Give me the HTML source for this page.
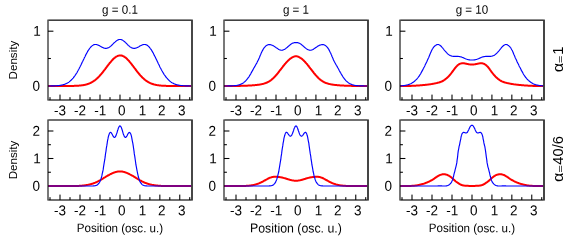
<!DOCTYPE html>
<html lang="en"><head><meta charset="utf-8"><title>Density profiles</title>
<style>
html,body{margin:0;padding:0;background:#fff;}
body{width:575px;height:240px;overflow:hidden;position:relative;font-family:"Liberation Sans",sans-serif;}
#fig{will-change:transform;position:absolute;left:0;top:0;width:575px;height:240px;}
#fig svg{display:block;position:absolute;left:0;top:0;}
svg text{font-family:"Liberation Sans",sans-serif;fill:#000;}
.t{font-size:13.5px;}
.l{font-size:11.6px;}
.r{font-size:14.7px;}
</style></head><body>
<div id="fig">
<svg width="575" height="240" viewBox="0 0 575 240">
<rect width="575" height="240" fill="#fff"/>
<g>
<g fill="#000" shape-rendering="crispEdges"><rect x="49" y="97" width="1" height="1" fill-opacity="0.45"/><rect x="49" y="98" width="1" height="2" fill-opacity="0.53"/><rect x="50" y="97" width="1" height="1" fill-opacity="0.45"/><rect x="50" y="98" width="1" height="2" fill-opacity="0.53"/><rect x="59" y="94" width="1" height="1" fill-opacity="0.21"/><rect x="59" y="95" width="1" height="5" fill-opacity="0.53"/><rect x="60" y="94" width="1" height="1" fill-opacity="0.21"/><rect x="60" y="95" width="1" height="5" fill-opacity="0.53"/><rect x="69" y="97" width="1" height="1" fill-opacity="0.45"/><rect x="69" y="98" width="1" height="2" fill-opacity="0.53"/><rect x="70" y="97" width="1" height="1" fill-opacity="0.45"/><rect x="70" y="98" width="1" height="2" fill-opacity="0.53"/><rect x="79" y="94" width="1" height="1" fill-opacity="0.21"/><rect x="79" y="95" width="1" height="5" fill-opacity="0.53"/><rect x="80" y="94" width="1" height="1" fill-opacity="0.21"/><rect x="80" y="95" width="1" height="5" fill-opacity="0.53"/><rect x="89" y="97" width="1" height="1" fill-opacity="0.45"/><rect x="89" y="98" width="1" height="2" fill-opacity="0.53"/><rect x="90" y="97" width="1" height="1" fill-opacity="0.45"/><rect x="90" y="98" width="1" height="2" fill-opacity="0.53"/><rect x="99" y="94" width="1" height="1" fill-opacity="0.21"/><rect x="99" y="95" width="1" height="5" fill-opacity="0.53"/><rect x="100" y="94" width="1" height="1" fill-opacity="0.21"/><rect x="100" y="95" width="1" height="5" fill-opacity="0.53"/><rect x="109" y="97" width="1" height="1" fill-opacity="0.45"/><rect x="109" y="98" width="1" height="2" fill-opacity="0.53"/><rect x="110" y="97" width="1" height="1" fill-opacity="0.45"/><rect x="110" y="98" width="1" height="2" fill-opacity="0.53"/><rect x="119" y="94" width="1" height="1" fill-opacity="0.21"/><rect x="119" y="95" width="1" height="5" fill-opacity="0.53"/><rect x="120" y="94" width="1" height="1" fill-opacity="0.21"/><rect x="120" y="95" width="1" height="5" fill-opacity="0.53"/><rect x="129" y="97" width="1" height="1" fill-opacity="0.49"/><rect x="129" y="98" width="1" height="2" fill-opacity="0.57"/><rect x="130" y="97" width="1" height="1" fill-opacity="0.42"/><rect x="130" y="98" width="1" height="2" fill-opacity="0.50"/><rect x="139" y="94" width="1" height="1" fill-opacity="0.25"/><rect x="139" y="95" width="1" height="5" fill-opacity="0.62"/><rect x="140" y="94" width="1" height="1" fill-opacity="0.18"/><rect x="140" y="95" width="1" height="5" fill-opacity="0.45"/><rect x="149" y="97" width="1" height="1" fill-opacity="0.56"/><rect x="149" y="98" width="1" height="2" fill-opacity="0.66"/><rect x="150" y="97" width="1" height="1" fill-opacity="0.35"/><rect x="150" y="98" width="1" height="2" fill-opacity="0.41"/><rect x="159" y="94" width="1" height="1" fill-opacity="0.28"/><rect x="159" y="95" width="1" height="5" fill-opacity="0.69"/><rect x="160" y="94" width="1" height="1" fill-opacity="0.15"/><rect x="160" y="95" width="1" height="5" fill-opacity="0.38"/><rect x="169" y="97" width="1" height="1" fill-opacity="0.62"/><rect x="169" y="98" width="1" height="2" fill-opacity="0.73"/><rect x="170" y="97" width="1" height="1" fill-opacity="0.28"/><rect x="170" y="98" width="1" height="2" fill-opacity="0.34"/><rect x="179" y="94" width="1" height="1" fill-opacity="0.31"/><rect x="179" y="95" width="1" height="5" fill-opacity="0.78"/><rect x="180" y="94" width="1" height="1" fill-opacity="0.12"/><rect x="180" y="95" width="1" height="5" fill-opacity="0.29"/><rect x="189" y="97" width="1" height="1" fill-opacity="0.69"/><rect x="189" y="98" width="1" height="2" fill-opacity="0.81"/><rect x="190" y="97" width="1" height="1" fill-opacity="0.22"/><rect x="190" y="98" width="1" height="2" fill-opacity="0.25"/><rect x="48" y="85" width="5" height="1" fill-opacity="0.53"/><rect x="48" y="86" width="5" height="1" fill-opacity="0.53"/><rect x="53" y="85" width="1" height="1" fill-opacity="0.21"/><rect x="53" y="86" width="1" height="1" fill-opacity="0.21"/><rect x="48" y="30" width="5" height="1" fill-opacity="0.34"/><rect x="48" y="31" width="5" height="1" fill-opacity="0.73"/><rect x="53" y="30" width="1" height="1" fill-opacity="0.13"/><rect x="53" y="31" width="1" height="1" fill-opacity="0.29"/><rect x="48" y="57" width="2" height="1" fill-opacity="0.03"/><rect x="48" y="58" width="2" height="1" fill-opacity="1.00"/><rect x="48" y="59" width="2" height="1" fill-opacity="0.03"/><rect x="50" y="57" width="1" height="1" fill-opacity="0.03"/><rect x="50" y="58" width="1" height="1" fill-opacity="0.90"/><rect x="50" y="59" width="1" height="1" fill-opacity="0.03"/></g>
<path d="M48.4,86.00L48.8,86.00L49.2,86.00L49.5,86.00L50.0,86.00L50.4,86.00L50.8,86.00L51.1,86.00L51.5,86.00L52.0,86.00L52.3,86.00L52.8,86.00L53.1,86.00L53.5,86.00L54.0,86.00L54.3,86.00L54.8,86.00L55.1,86.00L55.5,86.00L56.0,86.00L56.4,86.00L56.8,86.00L57.1,86.00L57.5,86.00L58.0,86.00L58.4,86.00L58.8,86.00L59.2,86.00L59.6,86.00L60.0,86.00L60.3,86.00L60.8,86.00L61.1,86.00L61.6,86.00L61.9,86.00L62.4,85.99L62.8,85.99L63.1,85.99L63.5,85.99L63.9,85.99L64.3,85.99L64.8,85.99L65.2,85.99L65.5,85.99L66.0,85.99L66.3,85.98L66.8,85.98L67.2,85.98L67.5,85.98L68.0,85.97L68.3,85.97L68.8,85.97L69.2,85.97L69.5,85.96L70.0,85.96L70.3,85.95L70.8,85.95L71.1,85.94L71.6,85.94L71.9,85.93L72.4,85.92L72.8,85.91L73.2,85.90L73.5,85.89L74.0,85.88L74.3,85.87L74.8,85.86L75.2,85.84L75.5,85.83L76.0,85.81L76.3,85.80L76.8,85.78L77.2,85.75L77.5,85.73L78.0,85.71L78.3,85.68L78.8,85.65L79.2,85.62L79.5,85.59L80.0,85.55L80.3,85.51L80.8,85.47L81.2,85.42L81.5,85.37L82.0,85.32L82.3,85.27L82.8,85.21L83.2,85.14L83.6,85.07L84.0,85.00L84.3,84.92L84.8,84.84L85.2,84.75L85.5,84.66L86.0,84.56L86.3,84.45L86.8,84.34L87.2,84.22L87.5,84.09L88.0,83.96L88.3,83.82L88.8,83.67L89.2,83.52L89.6,83.35L90.0,83.18L90.3,83.00L90.8,82.80L91.2,82.60L91.6,82.39L92.0,82.17L92.3,81.94L92.8,81.70L93.2,81.45L93.5,81.19L93.9,80.92L94.3,80.63L94.8,80.34L95.2,80.03L95.5,79.72L96.0,79.39L96.3,79.05L96.8,78.70L97.2,78.34L97.5,77.96L98.0,77.58L98.3,77.18L98.8,76.78L99.2,76.36L99.6,75.93L100.0,75.49L100.3,75.04L100.8,74.59L101.2,74.12L101.6,73.64L102.0,73.16L102.3,72.67L102.8,72.17L103.2,71.66L103.5,71.15L103.9,70.63L104.3,70.11L104.8,69.59L105.2,69.06L105.5,68.52L106.0,67.99L106.3,67.45L106.8,66.92L107.2,66.39L107.5,65.85L108.0,65.33L108.3,64.80L108.8,64.28L109.2,63.76L109.5,63.26L110.0,62.76L110.4,62.26L110.8,61.78L111.2,61.31L111.6,60.85L112.0,60.41L112.4,59.97L112.8,59.56L113.1,59.15L113.5,58.77L114.0,58.40L114.3,58.05L114.8,57.72L115.2,57.41L115.5,57.12L116.0,56.85L116.3,56.60L116.8,56.38L117.2,56.18L117.5,56.00L118.0,55.84L118.3,55.72L118.8,55.61L119.2,55.53L119.5,55.48L120.0,55.45L120.4,55.45L120.8,55.47L121.2,55.52L121.6,55.59L122.0,55.69L122.4,55.81L122.8,55.96L123.1,56.13L123.5,56.32L124.0,56.54L124.3,56.78L124.8,57.05L125.2,57.33L125.5,57.64L126.0,57.96L126.4,58.31L126.8,58.67L127.2,59.05L127.5,59.45L127.9,59.87L128.3,60.30L128.8,60.74L129.2,61.20L129.5,61.66L129.9,62.14L130.3,62.63L130.8,63.13L131.2,63.64L131.6,64.15L131.9,64.67L132.3,65.19L132.8,65.72L133.2,66.25L133.6,66.79L134.0,67.32L134.3,67.86L134.8,68.39L135.2,68.92L135.6,69.45L135.9,69.98L136.4,70.50L136.8,71.02L137.2,71.54L137.6,72.04L138.0,72.54L138.3,73.04L138.8,73.52L139.2,74.00L139.5,74.47L139.9,74.93L140.3,75.38L140.8,75.82L141.2,76.25L141.6,76.67L141.9,77.08L142.3,77.48L142.8,77.87L143.2,78.24L143.6,78.61L144.0,78.96L144.3,79.30L144.8,79.64L145.2,79.96L145.6,80.26L145.9,80.56L146.4,80.85L146.8,81.12L147.2,81.39L147.6,81.64L148.0,81.88L148.3,82.12L148.8,82.34L149.2,82.55L149.5,82.75L149.9,82.95L150.3,83.13L150.8,83.31L151.2,83.48L151.6,83.63L151.9,83.78L152.4,83.93L152.8,84.06L153.2,84.19L153.6,84.31L153.9,84.42L154.3,84.53L154.8,84.63L155.2,84.73L155.6,84.82L155.9,84.90L156.4,84.98L156.8,85.06L157.2,85.13L157.6,85.19L158.0,85.25L158.3,85.31L158.8,85.36L159.2,85.41L159.6,85.46L159.9,85.50L160.3,85.54L160.8,85.58L161.1,85.61L161.6,85.64L161.9,85.67L162.4,85.70L162.8,85.73L163.2,85.75L163.6,85.77L163.9,85.79L164.3,85.81L164.8,85.83L165.2,85.84L165.6,85.86L165.9,85.87L166.4,85.88L166.8,85.89L167.2,85.90L167.6,85.91L168.0,85.92L168.3,85.93L168.8,85.93L169.2,85.94L169.6,85.95L169.9,85.95L170.3,85.96L170.8,85.96L171.1,85.96L171.6,85.97L171.9,85.97L172.4,85.97L172.8,85.98L173.2,85.98L173.6,85.98L173.9,85.98L174.3,85.99L174.8,85.99L175.2,85.99L175.6,85.99L175.9,85.99L176.4,85.99L176.8,85.99L177.2,85.99L177.6,85.99L178.0,85.99L178.3,86.00L178.8,86.00L179.2,86.00L179.6,86.00L179.9,86.00L180.3,86.00L180.8,86.00L181.1,86.00L181.6,86.00L181.9,86.00L182.4,86.00L182.8,86.00L183.2,86.00L183.6,86.00L183.9,86.00L184.3,86.00L184.8,86.00L185.1,86.00L185.6,86.00L185.9,86.00L186.4,86.00L186.8,86.00L187.2,86.00L187.6,86.00L187.9,86.00L188.4,86.00L188.8,86.00L189.2,86.00L189.6,86.00L189.9,86.00L190.3,86.00L190.8,86.00L191.1,86.00" fill="none" stroke="#ff0000" stroke-width="2.0" stroke-linejoin="round"/>
<path d="M48.4,85.97L48.8,85.97L49.2,85.96L49.5,85.96L50.0,85.96L50.4,85.95L50.8,85.94L51.1,85.94L51.5,85.93L52.0,85.92L52.3,85.91L52.8,85.90L53.1,85.89L53.5,85.88L54.0,85.86L54.3,85.85L54.8,85.83L55.1,85.81L55.5,85.79L56.0,85.77L56.4,85.74L56.8,85.71L57.1,85.68L57.5,85.65L58.0,85.61L58.4,85.57L58.8,85.53L59.2,85.48L59.6,85.43L60.0,85.37L60.3,85.31L60.8,85.25L61.1,85.17L61.6,85.10L61.9,85.01L62.4,84.92L62.8,84.82L63.1,84.72L63.5,84.60L63.9,84.48L64.3,84.35L64.8,84.21L65.2,84.05L65.5,83.89L66.0,83.72L66.3,83.53L66.8,83.33L67.2,83.12L67.5,82.90L68.0,82.66L68.3,82.40L68.8,82.14L69.2,81.85L69.5,81.55L70.0,81.23L70.3,80.89L70.8,80.54L71.1,80.17L71.6,79.78L71.9,79.37L72.4,78.93L72.8,78.48L73.2,78.01L73.5,77.52L74.0,77.01L74.3,76.48L74.8,75.92L75.2,75.35L75.5,74.75L76.0,74.14L76.3,73.50L76.8,72.84L77.2,72.17L77.5,71.48L78.0,70.76L78.3,70.03L78.8,69.29L79.2,68.53L79.5,67.75L80.0,66.96L80.3,66.16L80.8,65.35L81.2,64.53L81.5,63.70L82.0,62.86L82.3,62.02L82.8,61.18L83.2,60.34L83.6,59.50L84.0,58.66L84.3,57.83L84.8,57.01L85.2,56.19L85.5,55.39L86.0,54.61L86.3,53.84L86.8,53.08L87.2,52.35L87.5,51.64L88.0,50.96L88.3,50.30L88.8,49.68L89.2,49.08L89.6,48.51L90.0,47.98L90.3,47.48L90.8,47.02L91.2,46.60L91.6,46.21L92.0,45.86L92.3,45.55L92.8,45.28L93.2,45.05L93.5,44.86L93.9,44.70L94.3,44.59L94.8,44.51L95.2,44.47L95.5,44.46L96.0,44.48L96.3,44.54L96.8,44.62L97.2,44.73L97.5,44.87L98.0,45.03L98.3,45.20L98.8,45.40L99.2,45.60L99.6,45.82L100.0,46.05L100.3,46.28L100.8,46.51L101.2,46.74L101.6,46.96L102.0,47.18L102.3,47.39L102.8,47.58L103.2,47.76L103.5,47.92L103.9,48.05L104.3,48.17L104.8,48.26L105.2,48.32L105.5,48.35L106.0,48.36L106.3,48.33L106.8,48.27L107.2,48.18L107.5,48.07L108.0,47.91L108.3,47.73L108.8,47.52L109.2,47.28L109.5,47.02L110.0,46.73L110.4,46.42L110.8,46.08L111.2,45.73L111.6,45.36L112.0,44.98L112.4,44.59L112.8,44.20L113.1,43.80L113.5,43.40L114.0,43.00L114.3,42.61L114.8,42.23L115.2,41.87L115.5,41.52L116.0,41.18L116.3,40.88L116.8,40.59L117.2,40.33L117.5,40.11L118.0,39.91L118.3,39.75L118.8,39.62L119.2,39.53L119.5,39.47L120.0,39.45L120.4,39.47L120.8,39.53L121.2,39.62L121.6,39.75L122.0,39.91L122.4,40.11L122.8,40.33L123.1,40.59L123.5,40.88L124.0,41.18L124.3,41.52L124.8,41.87L125.2,42.23L125.5,42.61L126.0,43.00L126.4,43.40L126.8,43.80L127.2,44.20L127.5,44.59L127.9,44.98L128.3,45.36L128.8,45.73L129.2,46.08L129.5,46.42L129.9,46.73L130.3,47.02L130.8,47.28L131.2,47.52L131.6,47.73L131.9,47.91L132.3,48.07L132.8,48.18L133.2,48.27L133.6,48.33L134.0,48.36L134.3,48.35L134.8,48.32L135.2,48.26L135.6,48.17L135.9,48.05L136.4,47.92L136.8,47.76L137.2,47.58L137.6,47.39L138.0,47.18L138.3,46.96L138.8,46.74L139.2,46.51L139.5,46.28L139.9,46.05L140.3,45.82L140.8,45.60L141.2,45.40L141.6,45.20L141.9,45.03L142.3,44.87L142.8,44.73L143.2,44.62L143.6,44.54L144.0,44.48L144.3,44.46L144.8,44.47L145.2,44.51L145.6,44.59L145.9,44.70L146.4,44.86L146.8,45.05L147.2,45.28L147.6,45.55L148.0,45.86L148.3,46.21L148.8,46.60L149.2,47.02L149.5,47.48L149.9,47.98L150.3,48.51L150.8,49.08L151.2,49.68L151.6,50.30L151.9,50.96L152.4,51.64L152.8,52.35L153.2,53.08L153.6,53.84L153.9,54.61L154.3,55.39L154.8,56.19L155.2,57.01L155.6,57.83L155.9,58.66L156.4,59.50L156.8,60.34L157.2,61.18L157.6,62.02L158.0,62.86L158.3,63.70L158.8,64.53L159.2,65.35L159.6,66.16L159.9,66.96L160.3,67.75L160.8,68.53L161.1,69.29L161.6,70.03L161.9,70.76L162.4,71.48L162.8,72.17L163.2,72.84L163.6,73.50L163.9,74.14L164.3,74.75L164.8,75.35L165.2,75.92L165.6,76.48L165.9,77.01L166.4,77.52L166.8,78.01L167.2,78.48L167.6,78.93L168.0,79.37L168.3,79.78L168.8,80.17L169.2,80.54L169.6,80.89L169.9,81.23L170.3,81.55L170.8,81.85L171.1,82.14L171.6,82.40L171.9,82.66L172.4,82.90L172.8,83.12L173.2,83.33L173.6,83.53L173.9,83.72L174.3,83.89L174.8,84.05L175.2,84.21L175.6,84.35L175.9,84.48L176.4,84.60L176.8,84.72L177.2,84.82L177.6,84.92L178.0,85.01L178.3,85.10L178.8,85.17L179.2,85.25L179.6,85.31L179.9,85.37L180.3,85.43L180.8,85.48L181.1,85.53L181.6,85.57L181.9,85.61L182.4,85.65L182.8,85.68L183.2,85.71L183.6,85.74L183.9,85.77L184.3,85.79L184.8,85.81L185.1,85.83L185.6,85.85L185.9,85.86L186.4,85.88L186.8,85.89L187.2,85.90L187.6,85.91L187.9,85.92L188.4,85.93L188.8,85.94L189.2,85.94L189.6,85.95L189.9,85.96L190.3,85.96L190.8,85.96L191.1,85.97" fill="none" stroke="#0000ff" stroke-width="1.15" stroke-linejoin="round"/>
<g fill="#000" shape-rendering="crispEdges"><rect x="47" y="19" width="1" height="1" fill-opacity="0.24"/><rect x="47" y="20" width="1" height="80" fill-opacity="0.53"/><rect x="47" y="100" width="1" height="1" fill-opacity="0.30"/><rect x="48" y="19" width="1" height="1" fill-opacity="0.24"/><rect x="48" y="20" width="1" height="80" fill-opacity="0.53"/><rect x="48" y="100" width="1" height="1" fill-opacity="0.30"/><rect x="191" y="19" width="1" height="1" fill-opacity="0.33"/><rect x="191" y="20" width="1" height="80" fill-opacity="0.72"/><rect x="191" y="100" width="1" height="1" fill-opacity="0.41"/><rect x="192" y="19" width="1" height="1" fill-opacity="0.33"/><rect x="192" y="20" width="1" height="80" fill-opacity="0.72"/><rect x="192" y="100" width="1" height="1" fill-opacity="0.41"/><rect x="48" y="19" width="1" height="1" fill-opacity="0.21"/><rect x="48" y="20" width="1" height="1" fill-opacity="0.35"/><rect x="49" y="19" width="142" height="1" fill-opacity="0.45"/><rect x="49" y="20" width="142" height="1" fill-opacity="0.75"/><rect x="191" y="19" width="1" height="1" fill-opacity="0.12"/><rect x="191" y="20" width="1" height="1" fill-opacity="0.21"/><rect x="48" y="99" width="1" height="1" fill-opacity="0.26"/><rect x="48" y="100" width="1" height="1" fill-opacity="0.26"/><rect x="49" y="99" width="142" height="1" fill-opacity="0.56"/><rect x="49" y="100" width="142" height="1" fill-opacity="0.56"/><rect x="191" y="99" width="1" height="1" fill-opacity="0.15"/><rect x="191" y="100" width="1" height="1" fill-opacity="0.15"/></g>
<text transform="translate(60.0,115.25) rotate(0.1) scale(1,1.05)" text-anchor="middle" class="t">-3</text>
<text transform="translate(80.0,115.25) rotate(0.1) scale(1,1.05)" text-anchor="middle" class="t">-2</text>
<text transform="translate(100.2,115.25) rotate(0.1) scale(1,1.05)" text-anchor="middle" class="t">-1</text>
<text transform="translate(121.7,115.25) rotate(0.1) scale(1,1.05)" text-anchor="middle" class="t">0</text>
<text transform="translate(142.5,115.25) rotate(0.1) scale(1,1.05)" text-anchor="middle" class="t">1</text>
<text transform="translate(161.7,115.25) rotate(0.1) scale(1,1.05)" text-anchor="middle" class="t">2</text>
<text transform="translate(181.7,115.25) rotate(0.1) scale(1,1.05)" text-anchor="middle" class="t">3</text>
<text transform="translate(40,90.75) rotate(0.1) scale(1,1.05)" text-anchor="end" class="t">0</text>
<text transform="translate(40.8,35.75) rotate(0.1) scale(1,1.05)" text-anchor="end" class="t">1</text>
<text transform="translate(17.2,60.1) rotate(-90)" text-anchor="middle" class="l">Density</text>
<text transform="translate(119.95,13.7) rotate(0.1) scale(1,1.06)" text-anchor="middle" class="l">g = 0.1</text>
</g>
<g>
<g fill="#000" shape-rendering="crispEdges"><rect x="225" y="97" width="1" height="1" fill-opacity="0.45"/><rect x="225" y="98" width="1" height="2" fill-opacity="0.53"/><rect x="226" y="97" width="1" height="1" fill-opacity="0.45"/><rect x="226" y="98" width="1" height="2" fill-opacity="0.53"/><rect x="235" y="94" width="1" height="1" fill-opacity="0.21"/><rect x="235" y="95" width="1" height="5" fill-opacity="0.53"/><rect x="236" y="94" width="1" height="1" fill-opacity="0.21"/><rect x="236" y="95" width="1" height="5" fill-opacity="0.53"/><rect x="245" y="97" width="1" height="1" fill-opacity="0.45"/><rect x="245" y="98" width="1" height="2" fill-opacity="0.53"/><rect x="246" y="97" width="1" height="1" fill-opacity="0.45"/><rect x="246" y="98" width="1" height="2" fill-opacity="0.53"/><rect x="255" y="94" width="1" height="1" fill-opacity="0.21"/><rect x="255" y="95" width="1" height="5" fill-opacity="0.53"/><rect x="256" y="94" width="1" height="1" fill-opacity="0.21"/><rect x="256" y="95" width="1" height="5" fill-opacity="0.54"/><rect x="265" y="97" width="1" height="1" fill-opacity="0.45"/><rect x="265" y="98" width="1" height="2" fill-opacity="0.54"/><rect x="266" y="97" width="1" height="1" fill-opacity="0.45"/><rect x="266" y="98" width="1" height="2" fill-opacity="0.54"/><rect x="275" y="94" width="1" height="1" fill-opacity="0.21"/><rect x="275" y="95" width="1" height="5" fill-opacity="0.54"/><rect x="276" y="94" width="1" height="1" fill-opacity="0.21"/><rect x="276" y="95" width="1" height="5" fill-opacity="0.54"/><rect x="285" y="97" width="1" height="1" fill-opacity="0.45"/><rect x="285" y="98" width="1" height="2" fill-opacity="0.54"/><rect x="286" y="97" width="1" height="1" fill-opacity="0.45"/><rect x="286" y="98" width="1" height="2" fill-opacity="0.54"/><rect x="295" y="94" width="1" height="1" fill-opacity="0.21"/><rect x="295" y="95" width="1" height="5" fill-opacity="0.54"/><rect x="296" y="94" width="1" height="1" fill-opacity="0.21"/><rect x="296" y="95" width="1" height="5" fill-opacity="0.54"/><rect x="305" y="97" width="1" height="1" fill-opacity="0.49"/><rect x="305" y="98" width="1" height="2" fill-opacity="0.58"/><rect x="306" y="97" width="1" height="1" fill-opacity="0.42"/><rect x="306" y="98" width="1" height="2" fill-opacity="0.50"/><rect x="315" y="94" width="1" height="1" fill-opacity="0.25"/><rect x="315" y="95" width="1" height="5" fill-opacity="0.62"/><rect x="316" y="94" width="1" height="1" fill-opacity="0.18"/><rect x="316" y="95" width="1" height="5" fill-opacity="0.46"/><rect x="325" y="97" width="1" height="1" fill-opacity="0.56"/><rect x="325" y="98" width="1" height="2" fill-opacity="0.66"/><rect x="326" y="97" width="1" height="1" fill-opacity="0.35"/><rect x="326" y="98" width="1" height="2" fill-opacity="0.42"/><rect x="335" y="94" width="1" height="1" fill-opacity="0.28"/><rect x="335" y="95" width="1" height="5" fill-opacity="0.70"/><rect x="336" y="94" width="1" height="1" fill-opacity="0.15"/><rect x="336" y="95" width="1" height="5" fill-opacity="0.38"/><rect x="345" y="97" width="1" height="1" fill-opacity="0.62"/><rect x="345" y="98" width="1" height="2" fill-opacity="0.74"/><rect x="346" y="97" width="1" height="1" fill-opacity="0.28"/><rect x="346" y="98" width="1" height="2" fill-opacity="0.34"/><rect x="355" y="94" width="1" height="1" fill-opacity="0.31"/><rect x="355" y="95" width="1" height="5" fill-opacity="0.78"/><rect x="356" y="94" width="1" height="1" fill-opacity="0.12"/><rect x="356" y="95" width="1" height="5" fill-opacity="0.30"/><rect x="365" y="97" width="1" height="1" fill-opacity="0.69"/><rect x="365" y="98" width="1" height="2" fill-opacity="0.81"/><rect x="366" y="97" width="1" height="1" fill-opacity="0.22"/><rect x="366" y="98" width="1" height="2" fill-opacity="0.26"/><rect x="224" y="85" width="5" height="1" fill-opacity="0.53"/><rect x="224" y="86" width="5" height="1" fill-opacity="0.53"/><rect x="229" y="85" width="1" height="1" fill-opacity="0.21"/><rect x="229" y="86" width="1" height="1" fill-opacity="0.21"/><rect x="224" y="30" width="5" height="1" fill-opacity="0.34"/><rect x="224" y="31" width="5" height="1" fill-opacity="0.73"/><rect x="229" y="30" width="1" height="1" fill-opacity="0.13"/><rect x="229" y="31" width="1" height="1" fill-opacity="0.29"/><rect x="224" y="57" width="2" height="1" fill-opacity="0.03"/><rect x="224" y="58" width="2" height="1" fill-opacity="1.00"/><rect x="224" y="59" width="2" height="1" fill-opacity="0.03"/><rect x="226" y="57" width="1" height="1" fill-opacity="0.03"/><rect x="226" y="58" width="1" height="1" fill-opacity="0.90"/><rect x="226" y="59" width="1" height="1" fill-opacity="0.03"/></g>
<path d="M224.3,86.00L224.8,86.00L225.1,86.00L225.5,86.00L225.9,86.00L226.3,86.00L226.8,86.00L227.1,86.00L227.5,86.00L227.9,86.00L228.3,86.00L228.8,86.00L229.1,86.00L229.5,86.00L229.9,86.00L230.3,86.00L230.8,86.00L231.1,86.00L231.5,85.99L231.9,85.99L232.3,85.99L232.8,85.99L233.1,85.98L233.5,85.98L233.9,85.98L234.3,85.98L234.8,85.97L235.1,85.97L235.5,85.96L235.9,85.96L236.3,85.95L236.8,85.95L237.1,85.94L237.5,85.94L237.9,85.93L238.3,85.92L238.8,85.91L239.1,85.91L239.5,85.90L239.9,85.89L240.3,85.88L240.8,85.87L241.1,85.86L241.5,85.85L241.9,85.84L242.3,85.83L242.8,85.82L243.1,85.80L243.5,85.79L243.9,85.78L244.3,85.76L244.8,85.75L245.1,85.73L245.5,85.72L245.9,85.70L246.3,85.68L246.8,85.67L247.1,85.65L247.5,85.63L247.9,85.61L248.3,85.59L248.8,85.57L249.1,85.55L249.5,85.53L249.9,85.50L250.3,85.48L250.8,85.46L251.1,85.43L251.5,85.41L251.9,85.38L252.3,85.35L252.8,85.32L253.1,85.29L253.5,85.26L253.9,85.23L254.3,85.19L254.8,85.16L255.1,85.12L255.5,85.08L255.9,85.04L256.3,85.00L256.8,84.96L257.1,84.91L257.5,84.86L257.9,84.81L258.3,84.76L258.8,84.70L259.1,84.64L259.6,84.58L259.9,84.52L260.3,84.45L260.8,84.38L261.1,84.30L261.5,84.22L261.9,84.13L262.3,84.05L262.8,83.95L263.1,83.85L263.5,83.75L263.9,83.63L264.3,83.51L264.8,83.39L265.1,83.25L265.6,83.11L265.9,82.96L266.3,82.80L266.8,82.63L267.1,82.45L267.6,82.26L267.9,82.05L268.3,81.84L268.8,81.62L269.1,81.38L269.5,81.14L269.9,80.88L270.3,80.60L270.8,80.32L271.1,80.02L271.5,79.71L271.9,79.38L272.3,79.04L272.8,78.68L273.1,78.32L273.6,77.94L273.9,77.55L274.3,77.14L274.8,76.73L275.1,76.30L275.6,75.86L275.9,75.41L276.3,74.95L276.8,74.48L277.1,74.00L277.6,73.52L277.9,73.02L278.3,72.52L278.8,72.01L279.1,71.50L279.5,70.99L279.9,70.47L280.3,69.95L280.8,69.42L281.1,68.90L281.6,68.38L281.9,67.86L282.3,67.34L282.8,66.83L283.1,66.32L283.6,65.81L283.9,65.31L284.3,64.81L284.8,64.33L285.1,63.85L285.6,63.38L285.9,62.91L286.3,62.46L286.8,62.02L287.1,61.59L287.6,61.17L287.9,60.77L288.3,60.37L288.8,60.00L289.1,59.63L289.5,59.28L289.9,58.95L290.3,58.63L290.8,58.33L291.1,58.04L291.6,57.77L291.9,57.53L292.3,57.30L292.8,57.09L293.1,56.90L293.6,56.73L293.9,56.59L294.3,56.47L294.8,56.37L295.1,56.30L295.6,56.26L295.9,56.24L296.3,56.26L296.8,56.30L297.1,56.37L297.6,56.47L297.9,56.59L298.3,56.73L298.8,56.90L299.1,57.09L299.5,57.30L299.9,57.53L300.3,57.77L300.8,58.04L301.1,58.33L301.6,58.63L301.9,58.95L302.4,59.28L302.8,59.63L303.1,60.00L303.6,60.37L303.9,60.77L304.3,61.17L304.8,61.59L305.1,62.02L305.5,62.46L305.9,62.91L306.3,63.38L306.8,63.85L307.1,64.33L307.6,64.81L307.9,65.31L308.3,65.81L308.8,66.32L309.1,66.83L309.5,67.34L309.9,67.86L310.3,68.38L310.8,68.90L311.1,69.42L311.6,69.95L311.9,70.47L312.4,70.99L312.8,71.50L313.1,72.01L313.6,72.52L313.9,73.02L314.3,73.52L314.8,74.00L315.1,74.48L315.5,74.95L315.9,75.41L316.3,75.86L316.8,76.30L317.1,76.73L317.6,77.14L317.9,77.55L318.3,77.94L318.8,78.32L319.1,78.68L319.5,79.04L319.9,79.38L320.3,79.71L320.8,80.02L321.1,80.32L321.6,80.60L321.9,80.88L322.4,81.14L322.8,81.38L323.1,81.62L323.6,81.84L323.9,82.05L324.3,82.26L324.8,82.45L325.1,82.63L325.5,82.80L325.9,82.96L326.3,83.11L326.8,83.25L327.1,83.39L327.6,83.51L327.9,83.63L328.4,83.75L328.8,83.85L329.1,83.95L329.5,84.05L329.9,84.13L330.3,84.22L330.8,84.30L331.1,84.38L331.6,84.45L331.9,84.52L332.4,84.58L332.8,84.64L333.1,84.70L333.5,84.76L333.9,84.81L334.3,84.86L334.8,84.91L335.1,84.96L335.5,85.00L335.9,85.04L336.3,85.08L336.8,85.12L337.1,85.16L337.6,85.19L337.9,85.23L338.4,85.26L338.8,85.29L339.1,85.32L339.5,85.35L339.9,85.38L340.3,85.41L340.8,85.43L341.1,85.46L341.6,85.48L341.9,85.50L342.4,85.53L342.8,85.55L343.1,85.57L343.5,85.59L343.9,85.61L344.3,85.63L344.8,85.65L345.1,85.67L345.5,85.68L345.9,85.70L346.3,85.72L346.8,85.73L347.1,85.75L347.6,85.76L347.9,85.78L348.4,85.79L348.8,85.80L349.1,85.82L349.5,85.83L349.9,85.84L350.3,85.85L350.8,85.86L351.1,85.87L351.6,85.88L351.9,85.89L352.4,85.90L352.8,85.91L353.1,85.91L353.5,85.92L353.9,85.93L354.3,85.94L354.8,85.94L355.1,85.95L355.5,85.95L355.9,85.96L356.3,85.96L356.8,85.97L357.1,85.97L357.6,85.98L357.9,85.98L358.4,85.98L358.8,85.98L359.1,85.99L359.5,85.99L359.9,85.99L360.3,85.99L360.8,86.00L361.1,86.00L361.6,86.00L361.9,86.00L362.4,86.00L362.8,86.00L363.1,86.00L363.5,86.00L363.9,86.00L364.4,86.00L364.8,86.00L365.1,86.00L365.5,86.00L365.9,86.00L366.3,86.00L366.8,86.00L367.1,86.00" fill="none" stroke="#ff0000" stroke-width="2.0" stroke-linejoin="round"/>
<path d="M224.3,85.98L224.8,85.98L225.1,85.98L225.5,85.97L225.9,85.97L226.3,85.96L226.8,85.96L227.1,85.96L227.5,85.95L227.9,85.94L228.3,85.94L228.8,85.93L229.1,85.93L229.5,85.92L229.9,85.91L230.3,85.90L230.8,85.89L231.1,85.88L231.5,85.86L231.9,85.84L232.3,85.83L232.8,85.80L233.1,85.78L233.5,85.75L233.9,85.72L234.3,85.69L234.8,85.66L235.1,85.62L235.5,85.57L235.9,85.52L236.3,85.46L236.8,85.40L237.1,85.33L237.5,85.25L237.9,85.16L238.3,85.06L238.8,84.96L239.1,84.84L239.5,84.71L239.9,84.57L240.3,84.42L240.8,84.26L241.1,84.08L241.5,83.88L241.9,83.67L242.3,83.45L242.8,83.21L243.1,82.95L243.5,82.67L243.9,82.37L244.3,82.05L244.8,81.71L245.1,81.36L245.5,80.97L245.9,80.57L246.3,80.14L246.8,79.69L247.1,79.22L247.5,78.72L247.9,78.19L248.3,77.64L248.8,77.06L249.1,76.45L249.5,75.82L249.9,75.16L250.3,74.48L250.8,73.79L251.1,73.08L251.5,72.36L251.9,71.64L252.3,70.91L252.8,70.18L253.1,69.45L253.5,68.73L253.9,68.02L254.3,67.31L254.8,66.62L255.1,65.93L255.5,65.23L255.9,64.53L256.3,63.82L256.8,63.09L257.1,62.35L257.5,61.57L257.9,60.77L258.3,59.94L258.8,59.06L259.1,58.15L259.6,57.19L259.9,56.22L260.3,55.25L260.8,54.29L261.1,53.37L261.5,52.49L261.9,51.65L262.3,50.86L262.8,50.12L263.1,49.42L263.5,48.77L263.9,48.17L264.3,47.62L264.8,47.12L265.1,46.66L265.6,46.26L265.9,45.90L266.3,45.60L266.8,45.33L267.1,45.11L267.6,44.93L267.9,44.79L268.3,44.68L268.8,44.61L269.1,44.58L269.5,44.58L269.9,44.61L270.3,44.67L270.8,44.75L271.1,44.86L271.5,44.99L271.9,45.13L272.3,45.30L272.8,45.48L273.1,45.68L273.6,45.89L273.9,46.12L274.3,46.36L274.8,46.62L275.1,46.89L275.6,47.17L275.9,47.46L276.3,47.75L276.8,48.04L277.1,48.33L277.6,48.61L277.9,48.88L278.3,49.13L278.8,49.36L279.1,49.58L279.5,49.77L279.9,49.93L280.3,50.06L280.8,50.16L281.1,50.23L281.6,50.25L281.9,50.23L282.3,50.18L282.8,50.08L283.1,49.96L283.6,49.80L283.9,49.61L284.3,49.40L284.8,49.17L285.1,48.91L285.6,48.64L285.9,48.35L286.3,48.05L286.8,47.73L287.1,47.40L287.6,47.07L287.9,46.73L288.3,46.38L288.8,46.03L289.1,45.67L289.5,45.33L289.9,44.99L290.3,44.66L290.8,44.35L291.1,44.05L291.6,43.78L291.9,43.54L292.3,43.33L292.8,43.15L293.1,42.99L293.6,42.86L293.9,42.76L294.3,42.68L294.8,42.62L295.1,42.58L295.6,42.56L295.9,42.55L296.3,42.56L296.8,42.58L297.1,42.62L297.6,42.68L297.9,42.76L298.3,42.86L298.8,42.99L299.1,43.15L299.5,43.33L299.9,43.54L300.3,43.78L300.8,44.05L301.1,44.35L301.6,44.66L301.9,44.99L302.4,45.33L302.8,45.67L303.1,46.03L303.6,46.38L303.9,46.73L304.3,47.07L304.8,47.40L305.1,47.73L305.5,48.05L305.9,48.35L306.3,48.64L306.8,48.91L307.1,49.17L307.6,49.40L307.9,49.61L308.3,49.80L308.8,49.96L309.1,50.08L309.5,50.18L309.9,50.23L310.3,50.25L310.8,50.23L311.1,50.16L311.6,50.06L311.9,49.93L312.4,49.77L312.8,49.58L313.1,49.36L313.6,49.13L313.9,48.87L314.3,48.61L314.8,48.33L315.1,48.04L315.5,47.75L315.9,47.46L316.3,47.17L316.8,46.89L317.1,46.62L317.6,46.36L317.9,46.12L318.3,45.89L318.8,45.68L319.1,45.48L319.5,45.30L319.9,45.13L320.3,44.99L320.8,44.86L321.1,44.75L321.6,44.67L321.9,44.61L322.4,44.58L322.8,44.58L323.1,44.61L323.6,44.68L323.9,44.79L324.3,44.93L324.8,45.11L325.1,45.33L325.5,45.60L325.9,45.90L326.3,46.26L326.8,46.66L327.1,47.11L327.6,47.62L327.9,48.17L328.4,48.77L328.8,49.42L329.1,50.12L329.5,50.86L329.9,51.65L330.3,52.49L330.8,53.37L331.1,54.29L331.6,55.25L331.9,56.22L332.4,57.19L332.8,58.15L333.1,59.06L333.5,59.94L333.9,60.77L334.3,61.57L334.8,62.35L335.1,63.09L335.5,63.82L335.9,64.53L336.3,65.23L336.8,65.93L337.1,66.62L337.6,67.31L337.9,68.01L338.4,68.73L338.8,69.45L339.1,70.18L339.5,70.91L339.9,71.64L340.3,72.36L340.8,73.08L341.1,73.79L341.6,74.48L341.9,75.16L342.4,75.82L342.8,76.45L343.1,77.06L343.5,77.64L343.9,78.19L344.3,78.72L344.8,79.22L345.1,79.69L345.5,80.14L345.9,80.57L346.3,80.97L346.8,81.36L347.1,81.71L347.6,82.05L347.9,82.37L348.4,82.67L348.8,82.95L349.1,83.21L349.5,83.45L349.9,83.67L350.3,83.88L350.8,84.08L351.1,84.26L351.6,84.42L351.9,84.57L352.4,84.71L352.8,84.84L353.1,84.96L353.5,85.06L353.9,85.16L354.3,85.25L354.8,85.33L355.1,85.40L355.5,85.46L355.9,85.52L356.3,85.57L356.8,85.62L357.1,85.66L357.6,85.69L357.9,85.72L358.4,85.75L358.8,85.78L359.1,85.80L359.5,85.83L359.9,85.84L360.3,85.86L360.8,85.88L361.1,85.89L361.6,85.90L361.9,85.91L362.4,85.92L362.8,85.93L363.1,85.93L363.5,85.94L363.9,85.94L364.4,85.95L364.8,85.96L365.1,85.96L365.5,85.96L365.9,85.97L366.3,85.97L366.8,85.98L367.1,85.98" fill="none" stroke="#0000ff" stroke-width="1.15" stroke-linejoin="round"/>
<g fill="#000" shape-rendering="crispEdges"><rect x="223" y="19" width="1" height="1" fill-opacity="0.24"/><rect x="223" y="20" width="1" height="80" fill-opacity="0.53"/><rect x="223" y="100" width="1" height="1" fill-opacity="0.30"/><rect x="224" y="19" width="1" height="1" fill-opacity="0.24"/><rect x="224" y="20" width="1" height="80" fill-opacity="0.53"/><rect x="224" y="100" width="1" height="1" fill-opacity="0.30"/><rect x="367" y="19" width="1" height="1" fill-opacity="0.33"/><rect x="367" y="20" width="1" height="80" fill-opacity="0.73"/><rect x="367" y="100" width="1" height="1" fill-opacity="0.41"/><rect x="368" y="19" width="1" height="1" fill-opacity="0.33"/><rect x="368" y="20" width="1" height="80" fill-opacity="0.73"/><rect x="368" y="100" width="1" height="1" fill-opacity="0.41"/><rect x="224" y="19" width="1" height="1" fill-opacity="0.21"/><rect x="224" y="20" width="1" height="1" fill-opacity="0.35"/><rect x="225" y="19" width="142" height="1" fill-opacity="0.45"/><rect x="225" y="20" width="142" height="1" fill-opacity="0.75"/><rect x="367" y="19" width="1" height="1" fill-opacity="0.12"/><rect x="367" y="20" width="1" height="1" fill-opacity="0.21"/><rect x="224" y="99" width="1" height="1" fill-opacity="0.26"/><rect x="224" y="100" width="1" height="1" fill-opacity="0.26"/><rect x="225" y="99" width="142" height="1" fill-opacity="0.56"/><rect x="225" y="100" width="142" height="1" fill-opacity="0.56"/><rect x="367" y="99" width="1" height="1" fill-opacity="0.15"/><rect x="367" y="100" width="1" height="1" fill-opacity="0.15"/></g>
<text transform="translate(235.9,115.25) rotate(0.1) scale(1,1.05)" text-anchor="middle" class="t">-3</text>
<text transform="translate(255.9,115.25) rotate(0.1) scale(1,1.05)" text-anchor="middle" class="t">-2</text>
<text transform="translate(276.2,115.25) rotate(0.1) scale(1,1.05)" text-anchor="middle" class="t">-1</text>
<text transform="translate(297.7,115.25) rotate(0.1) scale(1,1.05)" text-anchor="middle" class="t">0</text>
<text transform="translate(318.5,115.25) rotate(0.1) scale(1,1.05)" text-anchor="middle" class="t">1</text>
<text transform="translate(337.7,115.25) rotate(0.1) scale(1,1.05)" text-anchor="middle" class="t">2</text>
<text transform="translate(357.7,115.25) rotate(0.1) scale(1,1.05)" text-anchor="middle" class="t">3</text>
<text transform="translate(216,90.75) rotate(0.1) scale(1,1.05)" text-anchor="end" class="t">0</text>
<text transform="translate(216.8,35.75) rotate(0.1) scale(1,1.05)" text-anchor="end" class="t">1</text>
<text transform="translate(295.95,13.7) rotate(0.1) scale(1,1.06)" text-anchor="middle" class="l">g = 1</text>
</g>
<g>
<g fill="#000" shape-rendering="crispEdges"><rect x="401" y="97" width="1" height="1" fill-opacity="0.45"/><rect x="401" y="98" width="1" height="2" fill-opacity="0.54"/><rect x="402" y="97" width="1" height="1" fill-opacity="0.45"/><rect x="402" y="98" width="1" height="2" fill-opacity="0.54"/><rect x="411" y="94" width="1" height="1" fill-opacity="0.21"/><rect x="411" y="95" width="1" height="5" fill-opacity="0.54"/><rect x="412" y="94" width="1" height="1" fill-opacity="0.21"/><rect x="412" y="95" width="1" height="5" fill-opacity="0.54"/><rect x="421" y="97" width="1" height="1" fill-opacity="0.45"/><rect x="421" y="98" width="1" height="2" fill-opacity="0.54"/><rect x="422" y="97" width="1" height="1" fill-opacity="0.45"/><rect x="422" y="98" width="1" height="2" fill-opacity="0.54"/><rect x="431" y="94" width="1" height="1" fill-opacity="0.21"/><rect x="431" y="95" width="1" height="5" fill-opacity="0.54"/><rect x="432" y="94" width="1" height="1" fill-opacity="0.21"/><rect x="432" y="95" width="1" height="5" fill-opacity="0.54"/><rect x="441" y="97" width="1" height="1" fill-opacity="0.45"/><rect x="441" y="98" width="1" height="2" fill-opacity="0.54"/><rect x="442" y="97" width="1" height="1" fill-opacity="0.45"/><rect x="442" y="98" width="1" height="2" fill-opacity="0.54"/><rect x="451" y="94" width="1" height="1" fill-opacity="0.21"/><rect x="451" y="95" width="1" height="5" fill-opacity="0.54"/><rect x="452" y="94" width="1" height="1" fill-opacity="0.21"/><rect x="452" y="95" width="1" height="5" fill-opacity="0.54"/><rect x="461" y="97" width="1" height="1" fill-opacity="0.45"/><rect x="461" y="98" width="1" height="2" fill-opacity="0.54"/><rect x="462" y="97" width="1" height="1" fill-opacity="0.45"/><rect x="462" y="98" width="1" height="2" fill-opacity="0.54"/><rect x="471" y="94" width="1" height="1" fill-opacity="0.21"/><rect x="471" y="95" width="1" height="5" fill-opacity="0.54"/><rect x="472" y="94" width="1" height="1" fill-opacity="0.21"/><rect x="472" y="95" width="1" height="5" fill-opacity="0.54"/><rect x="481" y="97" width="1" height="1" fill-opacity="0.49"/><rect x="481" y="98" width="1" height="2" fill-opacity="0.58"/><rect x="482" y="97" width="1" height="1" fill-opacity="0.42"/><rect x="482" y="98" width="1" height="2" fill-opacity="0.50"/><rect x="491" y="94" width="1" height="1" fill-opacity="0.25"/><rect x="491" y="95" width="1" height="5" fill-opacity="0.62"/><rect x="492" y="94" width="1" height="1" fill-opacity="0.18"/><rect x="492" y="95" width="1" height="5" fill-opacity="0.46"/><rect x="501" y="97" width="1" height="1" fill-opacity="0.56"/><rect x="501" y="98" width="1" height="2" fill-opacity="0.66"/><rect x="502" y="97" width="1" height="1" fill-opacity="0.35"/><rect x="502" y="98" width="1" height="2" fill-opacity="0.42"/><rect x="511" y="94" width="1" height="1" fill-opacity="0.28"/><rect x="511" y="95" width="1" height="5" fill-opacity="0.70"/><rect x="512" y="94" width="1" height="1" fill-opacity="0.15"/><rect x="512" y="95" width="1" height="5" fill-opacity="0.38"/><rect x="521" y="97" width="1" height="1" fill-opacity="0.62"/><rect x="521" y="98" width="1" height="2" fill-opacity="0.74"/><rect x="522" y="97" width="1" height="1" fill-opacity="0.28"/><rect x="522" y="98" width="1" height="2" fill-opacity="0.33"/><rect x="531" y="94" width="1" height="1" fill-opacity="0.31"/><rect x="531" y="95" width="1" height="5" fill-opacity="0.77"/><rect x="532" y="94" width="1" height="1" fill-opacity="0.12"/><rect x="532" y="95" width="1" height="5" fill-opacity="0.29"/><rect x="541" y="97" width="1" height="1" fill-opacity="0.69"/><rect x="541" y="98" width="1" height="2" fill-opacity="0.81"/><rect x="542" y="97" width="1" height="1" fill-opacity="0.22"/><rect x="542" y="98" width="1" height="2" fill-opacity="0.25"/><rect x="400" y="85" width="5" height="1" fill-opacity="0.53"/><rect x="400" y="86" width="5" height="1" fill-opacity="0.53"/><rect x="405" y="85" width="1" height="1" fill-opacity="0.21"/><rect x="405" y="86" width="1" height="1" fill-opacity="0.21"/><rect x="400" y="30" width="5" height="1" fill-opacity="0.34"/><rect x="400" y="31" width="5" height="1" fill-opacity="0.73"/><rect x="405" y="30" width="1" height="1" fill-opacity="0.13"/><rect x="405" y="31" width="1" height="1" fill-opacity="0.29"/><rect x="400" y="57" width="2" height="1" fill-opacity="0.03"/><rect x="400" y="58" width="2" height="1" fill-opacity="1.00"/><rect x="400" y="59" width="2" height="1" fill-opacity="0.03"/><rect x="402" y="57" width="1" height="1" fill-opacity="0.03"/><rect x="402" y="58" width="1" height="1" fill-opacity="0.90"/><rect x="402" y="59" width="1" height="1" fill-opacity="0.03"/></g>
<path d="M400.4,86.00L400.8,86.00L401.1,86.00L401.5,86.00L401.9,86.00L402.4,86.00L402.8,86.00L403.1,86.00L403.5,86.00L403.9,86.00L404.3,86.00L404.8,86.00L405.1,86.00L405.5,86.00L405.9,86.00L406.3,86.00L406.8,85.99L407.1,85.99L407.5,85.98L407.9,85.97L408.3,85.96L408.8,85.96L409.1,85.95L409.5,85.94L409.9,85.92L410.3,85.91L410.8,85.90L411.1,85.89L411.6,85.87L411.9,85.86L412.3,85.84L412.8,85.82L413.1,85.80L413.6,85.78L413.9,85.76L414.4,85.74L414.8,85.72L415.1,85.70L415.5,85.67L415.9,85.65L416.3,85.62L416.8,85.59L417.1,85.57L417.5,85.54L417.9,85.51L418.3,85.48L418.8,85.45L419.1,85.42L419.5,85.39L419.9,85.36L420.3,85.32L420.8,85.29L421.1,85.26L421.5,85.22L421.9,85.19L422.3,85.15L422.8,85.11L423.1,85.08L423.6,85.04L423.9,85.00L424.4,84.96L424.8,84.92L425.1,84.88L425.5,84.84L425.9,84.80L426.3,84.75L426.8,84.71L427.1,84.67L427.5,84.62L427.9,84.57L428.3,84.52L428.8,84.47L429.1,84.42L429.5,84.37L429.9,84.31L430.3,84.25L430.8,84.19L431.1,84.13L431.5,84.07L431.9,84.00L432.3,83.93L432.8,83.86L433.1,83.78L433.5,83.71L433.9,83.63L434.3,83.55L434.8,83.47L435.1,83.38L435.6,83.30L435.9,83.21L436.3,83.12L436.8,83.03L437.1,82.94L437.5,82.84L437.9,82.74L438.3,82.64L438.8,82.54L439.1,82.43L439.5,82.31L439.9,82.19L440.3,82.05L440.8,81.91L441.1,81.76L441.6,81.59L441.9,81.41L442.3,81.21L442.8,81.00L443.1,80.77L443.6,80.53L443.9,80.27L444.3,80.00L444.8,79.72L445.1,79.42L445.5,79.11L445.9,78.79L446.3,78.46L446.8,78.12L447.1,77.77L447.5,77.40L447.9,77.03L448.3,76.63L448.8,76.22L449.1,75.80L449.6,75.35L449.9,74.89L450.3,74.41L450.8,73.91L451.1,73.40L451.6,72.87L451.9,72.34L452.3,71.79L452.8,71.25L453.1,70.70L453.6,70.16L453.9,69.61L454.3,69.08L454.8,68.55L455.1,68.04L455.5,67.54L455.9,67.06L456.3,66.60L456.8,66.17L457.1,65.77L457.6,65.39L457.9,65.05L458.3,64.75L458.8,64.47L459.1,64.22L459.6,64.00L459.9,63.82L460.3,63.65L460.8,63.52L461.1,63.41L461.6,63.33L461.9,63.27L462.3,63.24L462.8,63.22L463.1,63.23L463.6,63.25L463.9,63.30L464.3,63.35L464.8,63.42L465.1,63.49L465.5,63.58L465.9,63.66L466.3,63.75L466.8,63.85L467.1,63.93L467.6,64.02L467.9,64.10L468.3,64.18L468.8,64.25L469.1,64.31L469.6,64.37L469.9,64.42L470.3,64.47L470.8,64.50L471.1,64.53L471.6,64.54L471.9,64.55L472.3,64.54L472.8,64.53L473.1,64.50L473.6,64.47L473.9,64.42L474.3,64.37L474.8,64.31L475.1,64.25L475.5,64.18L475.9,64.10L476.3,64.02L476.8,63.93L477.1,63.85L477.6,63.75L477.9,63.66L478.4,63.58L478.8,63.49L479.1,63.42L479.6,63.35L479.9,63.30L480.3,63.25L480.8,63.23L481.1,63.22L481.5,63.24L481.9,63.27L482.3,63.33L482.8,63.41L483.1,63.52L483.6,63.65L483.9,63.82L484.3,64.00L484.8,64.22L485.1,64.47L485.5,64.75L485.9,65.05L486.3,65.39L486.8,65.77L487.1,66.17L487.6,66.60L487.9,67.06L488.4,67.54L488.8,68.04L489.1,68.55L489.6,69.08L489.9,69.61L490.3,70.16L490.8,70.70L491.1,71.25L491.5,71.79L491.9,72.34L492.3,72.87L492.8,73.40L493.1,73.91L493.6,74.41L493.9,74.89L494.3,75.35L494.8,75.80L495.1,76.22L495.5,76.63L495.9,77.03L496.3,77.40L496.8,77.77L497.1,78.12L497.6,78.46L497.9,78.79L498.4,79.11L498.8,79.42L499.1,79.72L499.6,80.00L499.9,80.27L500.3,80.53L500.8,80.77L501.1,81.00L501.5,81.21L501.9,81.41L502.3,81.59L502.8,81.76L503.1,81.91L503.6,82.05L503.9,82.19L504.4,82.31L504.8,82.43L505.1,82.54L505.5,82.64L505.9,82.74L506.3,82.84L506.8,82.94L507.1,83.03L507.6,83.12L507.9,83.21L508.4,83.30L508.8,83.38L509.1,83.47L509.5,83.55L509.9,83.63L510.3,83.71L510.8,83.78L511.1,83.86L511.5,83.93L511.9,84.00L512.4,84.07L512.8,84.13L513.1,84.19L513.5,84.25L513.9,84.31L514.4,84.37L514.8,84.42L515.1,84.47L515.5,84.52L516.0,84.57L516.4,84.62L516.8,84.67L517.1,84.71L517.5,84.75L518.0,84.80L518.4,84.84L518.8,84.88L519.1,84.92L519.5,84.96L520.0,85.00L520.4,85.04L520.8,85.08L521.1,85.11L521.5,85.15L522.0,85.19L522.4,85.22L522.8,85.26L523.1,85.29L523.5,85.32L523.9,85.36L524.4,85.39L524.8,85.42L525.1,85.45L525.5,85.48L526.0,85.51L526.4,85.54L526.8,85.57L527.1,85.59L527.5,85.62L528.0,85.65L528.4,85.67L528.8,85.70L529.1,85.72L529.5,85.74L530.0,85.76L530.4,85.78L530.8,85.80L531.1,85.82L531.5,85.84L532.0,85.86L532.4,85.87L532.8,85.89L533.1,85.90L533.5,85.91L533.9,85.92L534.4,85.94L534.8,85.95L535.1,85.96L535.5,85.96L536.0,85.97L536.4,85.98L536.8,85.99L537.1,85.99L537.5,86.00L538.0,86.00L538.4,86.00L538.8,86.00L539.1,86.00L539.5,86.00L540.0,86.00L540.4,86.00L540.8,86.00L541.1,86.00L541.5,86.00L542.0,86.00L542.4,86.00L542.8,86.00L543.1,86.00" fill="none" stroke="#ff0000" stroke-width="2.0" stroke-linejoin="round"/>
<path d="M400.4,85.92L400.8,85.90L401.1,85.87L401.5,85.84L401.9,85.80L402.4,85.76L402.8,85.72L403.1,85.67L403.5,85.61L403.9,85.56L404.3,85.50L404.8,85.43L405.1,85.37L405.5,85.29L405.9,85.22L406.3,85.13L406.8,85.05L407.1,84.95L407.5,84.86L407.9,84.75L408.3,84.64L408.8,84.52L409.1,84.39L409.5,84.25L409.9,84.09L410.3,83.92L410.8,83.73L411.1,83.53L411.6,83.31L411.9,83.08L412.3,82.82L412.8,82.56L413.1,82.28L413.6,81.98L413.9,81.67L414.4,81.35L414.8,81.02L415.1,80.68L415.5,80.32L415.9,79.94L416.3,79.55L416.8,79.14L417.1,78.70L417.5,78.24L417.9,77.75L418.3,77.23L418.8,76.68L419.1,76.11L419.5,75.50L419.9,74.87L420.3,74.22L420.8,73.54L421.1,72.84L421.5,72.12L421.9,71.39L422.3,70.63L422.8,69.87L423.1,69.09L423.6,68.30L423.9,67.51L424.4,66.70L424.8,65.89L425.1,65.08L425.5,64.27L425.9,63.46L426.3,62.63L426.8,61.80L427.1,60.96L427.5,60.10L427.9,59.22L428.3,58.32L428.8,57.40L429.1,56.45L429.5,55.48L429.9,54.51L430.3,53.54L430.8,52.59L431.1,51.67L431.5,50.78L431.9,49.95L432.3,49.18L432.8,48.49L433.1,47.88L433.5,47.34L433.9,46.87L434.3,46.45L434.8,46.08L435.1,45.74L435.6,45.43L435.9,45.15L436.3,44.91L436.8,44.72L437.1,44.58L437.5,44.49L437.9,44.47L438.3,44.52L438.8,44.63L439.1,44.80L439.5,45.01L439.9,45.28L440.3,45.59L440.8,45.94L441.1,46.32L441.6,46.72L441.9,47.16L442.3,47.61L442.8,48.08L443.1,48.57L443.6,49.06L443.9,49.55L444.3,50.05L444.8,50.54L445.1,51.02L445.5,51.49L445.9,51.95L446.3,52.39L446.8,52.82L447.1,53.22L447.5,53.61L447.9,53.97L448.3,54.30L448.8,54.62L449.1,54.90L449.6,55.15L449.9,55.38L450.3,55.58L450.8,55.75L451.1,55.90L451.6,56.03L451.9,56.14L452.3,56.23L452.8,56.30L453.1,56.35L453.6,56.39L453.9,56.42L454.3,56.43L454.8,56.43L455.1,56.43L455.5,56.43L455.9,56.42L456.3,56.41L456.8,56.40L457.1,56.40L457.6,56.41L457.9,56.42L458.3,56.44L458.8,56.47L459.1,56.51L459.6,56.57L459.9,56.64L460.3,56.72L460.8,56.81L461.1,56.92L461.6,57.05L461.9,57.19L462.3,57.34L462.8,57.50L463.1,57.67L463.6,57.85L463.9,58.03L464.3,58.21L464.8,58.40L465.1,58.57L465.5,58.75L465.9,58.91L466.3,59.07L466.8,59.21L467.1,59.34L467.6,59.46L467.9,59.57L468.3,59.66L468.8,59.74L469.1,59.82L469.6,59.88L469.9,59.93L470.3,59.97L470.8,60.00L471.1,60.02L471.6,60.04L471.9,60.04L472.3,60.04L472.8,60.02L473.1,60.00L473.6,59.97L473.9,59.93L474.3,59.88L474.8,59.82L475.1,59.74L475.5,59.66L475.9,59.57L476.3,59.46L476.8,59.34L477.1,59.21L477.6,59.07L477.9,58.91L478.4,58.75L478.8,58.57L479.1,58.40L479.6,58.21L479.9,58.03L480.3,57.85L480.8,57.67L481.1,57.50L481.5,57.34L481.9,57.19L482.3,57.05L482.8,56.92L483.1,56.81L483.6,56.72L483.9,56.64L484.3,56.57L484.8,56.51L485.1,56.47L485.5,56.44L485.9,56.42L486.3,56.41L486.8,56.40L487.1,56.40L487.6,56.41L487.9,56.42L488.4,56.43L488.8,56.43L489.1,56.43L489.6,56.43L489.9,56.42L490.3,56.39L490.8,56.35L491.1,56.30L491.5,56.23L491.9,56.14L492.3,56.03L492.8,55.90L493.1,55.75L493.6,55.58L493.9,55.38L494.3,55.15L494.8,54.90L495.1,54.62L495.5,54.30L495.9,53.97L496.3,53.61L496.8,53.22L497.1,52.82L497.6,52.39L497.9,51.95L498.4,51.49L498.8,51.02L499.1,50.54L499.6,50.05L499.9,49.55L500.3,49.06L500.8,48.57L501.1,48.08L501.5,47.61L501.9,47.16L502.3,46.72L502.8,46.32L503.1,45.94L503.6,45.59L503.9,45.28L504.4,45.01L504.8,44.80L505.1,44.63L505.5,44.52L505.9,44.47L506.3,44.49L506.8,44.58L507.1,44.72L507.6,44.91L507.9,45.15L508.4,45.43L508.8,45.74L509.1,46.08L509.5,46.45L509.9,46.87L510.3,47.34L510.8,47.88L511.1,48.49L511.5,49.18L511.9,49.95L512.4,50.78L512.8,51.67L513.1,52.59L513.5,53.54L513.9,54.51L514.4,55.48L514.8,56.45L515.1,57.40L515.5,58.32L516.0,59.22L516.4,60.10L516.8,60.96L517.1,61.80L517.5,62.63L518.0,63.46L518.4,64.27L518.8,65.08L519.1,65.89L519.5,66.70L520.0,67.51L520.4,68.30L520.8,69.09L521.1,69.87L521.5,70.63L522.0,71.39L522.4,72.12L522.8,72.84L523.1,73.54L523.5,74.22L523.9,74.87L524.4,75.50L524.8,76.11L525.1,76.68L525.5,77.23L526.0,77.75L526.4,78.24L526.8,78.70L527.1,79.14L527.5,79.55L528.0,79.94L528.4,80.32L528.8,80.68L529.1,81.02L529.5,81.35L530.0,81.67L530.4,81.98L530.8,82.28L531.1,82.56L531.5,82.82L532.0,83.08L532.4,83.31L532.8,83.53L533.1,83.73L533.5,83.92L533.9,84.09L534.4,84.25L534.8,84.39L535.1,84.52L535.5,84.64L536.0,84.75L536.4,84.86L536.8,84.95L537.1,85.05L537.5,85.13L538.0,85.22L538.4,85.29L538.8,85.37L539.1,85.43L539.5,85.50L540.0,85.56L540.4,85.61L540.8,85.67L541.1,85.72L541.5,85.76L542.0,85.80L542.4,85.84L542.8,85.87L543.1,85.90" fill="none" stroke="#0000ff" stroke-width="1.15" stroke-linejoin="round"/>
<g fill="#000" shape-rendering="crispEdges"><rect x="399" y="19" width="1" height="1" fill-opacity="0.24"/><rect x="399" y="20" width="1" height="80" fill-opacity="0.54"/><rect x="399" y="100" width="1" height="1" fill-opacity="0.30"/><rect x="400" y="19" width="1" height="1" fill-opacity="0.24"/><rect x="400" y="20" width="1" height="80" fill-opacity="0.54"/><rect x="400" y="100" width="1" height="1" fill-opacity="0.30"/><rect x="543" y="19" width="1" height="1" fill-opacity="0.33"/><rect x="543" y="20" width="1" height="80" fill-opacity="0.73"/><rect x="543" y="100" width="1" height="1" fill-opacity="0.41"/><rect x="544" y="19" width="1" height="1" fill-opacity="0.33"/><rect x="544" y="20" width="1" height="80" fill-opacity="0.73"/><rect x="544" y="100" width="1" height="1" fill-opacity="0.41"/><rect x="400" y="19" width="1" height="1" fill-opacity="0.21"/><rect x="400" y="20" width="1" height="1" fill-opacity="0.35"/><rect x="401" y="19" width="142" height="1" fill-opacity="0.45"/><rect x="401" y="20" width="142" height="1" fill-opacity="0.75"/><rect x="543" y="19" width="1" height="1" fill-opacity="0.12"/><rect x="543" y="20" width="1" height="1" fill-opacity="0.21"/><rect x="400" y="99" width="1" height="1" fill-opacity="0.26"/><rect x="400" y="100" width="1" height="1" fill-opacity="0.26"/><rect x="401" y="99" width="142" height="1" fill-opacity="0.56"/><rect x="401" y="100" width="142" height="1" fill-opacity="0.56"/><rect x="543" y="99" width="1" height="1" fill-opacity="0.15"/><rect x="543" y="100" width="1" height="1" fill-opacity="0.15"/></g>
<text transform="translate(411.9,115.25) rotate(0.1) scale(1,1.05)" text-anchor="middle" class="t">-3</text>
<text transform="translate(431.9,115.25) rotate(0.1) scale(1,1.05)" text-anchor="middle" class="t">-2</text>
<text transform="translate(452.2,115.25) rotate(0.1) scale(1,1.05)" text-anchor="middle" class="t">-1</text>
<text transform="translate(473.7,115.25) rotate(0.1) scale(1,1.05)" text-anchor="middle" class="t">0</text>
<text transform="translate(494.5,115.25) rotate(0.1) scale(1,1.05)" text-anchor="middle" class="t">1</text>
<text transform="translate(513.7,115.25) rotate(0.1) scale(1,1.05)" text-anchor="middle" class="t">2</text>
<text transform="translate(533.7,115.25) rotate(0.1) scale(1,1.05)" text-anchor="middle" class="t">3</text>
<text transform="translate(392,90.75) rotate(0.1) scale(1,1.05)" text-anchor="end" class="t">0</text>
<text transform="translate(392.8,35.75) rotate(0.1) scale(1,1.05)" text-anchor="end" class="t">1</text>
<text transform="translate(471.95,13.7) rotate(0.1) scale(1,1.06)" text-anchor="middle" class="l">g = 10</text>
</g>
<text transform="translate(563.4,72.2) rotate(-90) scale(1.1,1)" class="r">α</text>
<text transform="translate(562.85,63.0) rotate(-90) scale(0.85,0.65)" class="r">=</text>
<text transform="translate(563.4,54.8) rotate(-90)" class="r">1</text>
<g>
<g fill="#000" shape-rendering="crispEdges"><rect x="49" y="197" width="1" height="1" fill-opacity="0.45"/><rect x="49" y="198" width="1" height="2" fill-opacity="0.53"/><rect x="50" y="197" width="1" height="1" fill-opacity="0.45"/><rect x="50" y="198" width="1" height="2" fill-opacity="0.53"/><rect x="59" y="194" width="1" height="1" fill-opacity="0.21"/><rect x="59" y="195" width="1" height="5" fill-opacity="0.53"/><rect x="60" y="194" width="1" height="1" fill-opacity="0.21"/><rect x="60" y="195" width="1" height="5" fill-opacity="0.53"/><rect x="69" y="197" width="1" height="1" fill-opacity="0.45"/><rect x="69" y="198" width="1" height="2" fill-opacity="0.53"/><rect x="70" y="197" width="1" height="1" fill-opacity="0.45"/><rect x="70" y="198" width="1" height="2" fill-opacity="0.53"/><rect x="79" y="194" width="1" height="1" fill-opacity="0.21"/><rect x="79" y="195" width="1" height="5" fill-opacity="0.53"/><rect x="80" y="194" width="1" height="1" fill-opacity="0.21"/><rect x="80" y="195" width="1" height="5" fill-opacity="0.53"/><rect x="89" y="197" width="1" height="1" fill-opacity="0.45"/><rect x="89" y="198" width="1" height="2" fill-opacity="0.53"/><rect x="90" y="197" width="1" height="1" fill-opacity="0.45"/><rect x="90" y="198" width="1" height="2" fill-opacity="0.53"/><rect x="99" y="194" width="1" height="1" fill-opacity="0.21"/><rect x="99" y="195" width="1" height="5" fill-opacity="0.53"/><rect x="100" y="194" width="1" height="1" fill-opacity="0.21"/><rect x="100" y="195" width="1" height="5" fill-opacity="0.53"/><rect x="109" y="197" width="1" height="1" fill-opacity="0.45"/><rect x="109" y="198" width="1" height="2" fill-opacity="0.53"/><rect x="110" y="197" width="1" height="1" fill-opacity="0.45"/><rect x="110" y="198" width="1" height="2" fill-opacity="0.53"/><rect x="119" y="194" width="1" height="1" fill-opacity="0.21"/><rect x="119" y="195" width="1" height="5" fill-opacity="0.53"/><rect x="120" y="194" width="1" height="1" fill-opacity="0.21"/><rect x="120" y="195" width="1" height="5" fill-opacity="0.53"/><rect x="129" y="197" width="1" height="1" fill-opacity="0.49"/><rect x="129" y="198" width="1" height="2" fill-opacity="0.57"/><rect x="130" y="197" width="1" height="1" fill-opacity="0.42"/><rect x="130" y="198" width="1" height="2" fill-opacity="0.50"/><rect x="139" y="194" width="1" height="1" fill-opacity="0.25"/><rect x="139" y="195" width="1" height="5" fill-opacity="0.62"/><rect x="140" y="194" width="1" height="1" fill-opacity="0.18"/><rect x="140" y="195" width="1" height="5" fill-opacity="0.45"/><rect x="149" y="197" width="1" height="1" fill-opacity="0.56"/><rect x="149" y="198" width="1" height="2" fill-opacity="0.66"/><rect x="150" y="197" width="1" height="1" fill-opacity="0.35"/><rect x="150" y="198" width="1" height="2" fill-opacity="0.41"/><rect x="159" y="194" width="1" height="1" fill-opacity="0.28"/><rect x="159" y="195" width="1" height="5" fill-opacity="0.69"/><rect x="160" y="194" width="1" height="1" fill-opacity="0.15"/><rect x="160" y="195" width="1" height="5" fill-opacity="0.38"/><rect x="169" y="197" width="1" height="1" fill-opacity="0.62"/><rect x="169" y="198" width="1" height="2" fill-opacity="0.73"/><rect x="170" y="197" width="1" height="1" fill-opacity="0.28"/><rect x="170" y="198" width="1" height="2" fill-opacity="0.34"/><rect x="179" y="194" width="1" height="1" fill-opacity="0.31"/><rect x="179" y="195" width="1" height="5" fill-opacity="0.78"/><rect x="180" y="194" width="1" height="1" fill-opacity="0.12"/><rect x="180" y="195" width="1" height="5" fill-opacity="0.29"/><rect x="189" y="197" width="1" height="1" fill-opacity="0.69"/><rect x="189" y="198" width="1" height="2" fill-opacity="0.81"/><rect x="190" y="197" width="1" height="1" fill-opacity="0.22"/><rect x="190" y="198" width="1" height="2" fill-opacity="0.25"/><rect x="48" y="185" width="5" height="1" fill-opacity="0.53"/><rect x="48" y="186" width="5" height="1" fill-opacity="0.53"/><rect x="53" y="185" width="1" height="1" fill-opacity="0.21"/><rect x="53" y="186" width="1" height="1" fill-opacity="0.21"/><rect x="48" y="157" width="5" height="1" fill-opacity="0.03"/><rect x="48" y="158" width="5" height="1" fill-opacity="1.00"/><rect x="48" y="159" width="5" height="1" fill-opacity="0.03"/><rect x="53" y="158" width="1" height="1" fill-opacity="0.40"/><rect x="48" y="130" width="5" height="1" fill-opacity="0.53"/><rect x="48" y="131" width="5" height="1" fill-opacity="0.53"/><rect x="53" y="130" width="1" height="1" fill-opacity="0.21"/><rect x="53" y="131" width="1" height="1" fill-opacity="0.21"/><rect x="48" y="171" width="2" height="1" fill-opacity="0.28"/><rect x="48" y="172" width="2" height="1" fill-opacity="0.78"/><rect x="50" y="171" width="1" height="1" fill-opacity="0.26"/><rect x="50" y="172" width="1" height="1" fill-opacity="0.71"/><rect x="48" y="144" width="2" height="1" fill-opacity="0.84"/><rect x="48" y="145" width="2" height="1" fill-opacity="0.23"/><rect x="50" y="144" width="1" height="1" fill-opacity="0.75"/><rect x="50" y="145" width="1" height="1" fill-opacity="0.21"/></g>
<path d="M48.4,186.00L48.8,186.00L49.2,186.00L49.5,186.00L50.0,186.00L50.4,186.00L50.8,186.00L51.1,186.00L51.5,186.00L52.0,186.00L52.3,186.00L52.8,186.00L53.1,186.00L53.5,186.00L54.0,186.00L54.3,186.00L54.8,186.00L55.1,186.00L55.5,186.00L56.0,186.00L56.4,186.00L56.8,186.00L57.1,186.00L57.5,186.00L58.0,186.00L58.4,186.00L58.8,186.00L59.2,186.00L59.6,186.00L60.0,186.00L60.3,186.00L60.8,186.00L61.1,186.00L61.6,186.00L61.9,186.00L62.4,186.00L62.8,186.00L63.1,186.00L63.5,186.00L63.9,186.00L64.3,186.00L64.8,186.00L65.2,186.00L65.5,186.00L66.0,186.00L66.3,186.00L66.8,186.00L67.2,186.00L67.5,186.00L68.0,186.00L68.3,186.00L68.8,186.00L69.2,186.00L69.5,186.00L70.0,186.00L70.3,186.00L70.8,186.00L71.1,186.00L71.6,186.00L71.9,186.00L72.4,186.00L72.8,186.00L73.2,186.00L73.5,186.00L74.0,185.99L74.3,185.99L74.8,185.99L75.2,185.98L75.5,185.98L76.0,185.97L76.3,185.96L76.8,185.95L77.2,185.94L77.5,185.93L78.0,185.92L78.3,185.90L78.8,185.88L79.2,185.86L79.5,185.84L80.0,185.82L80.3,185.79L80.8,185.76L81.2,185.73L81.5,185.70L82.0,185.66L82.3,185.62L82.8,185.58L83.2,185.54L83.6,185.49L84.0,185.44L84.3,185.39L84.8,185.33L85.2,185.28L85.5,185.21L86.0,185.15L86.3,185.08L86.8,185.02L87.2,184.94L87.5,184.87L88.0,184.79L88.3,184.71L88.8,184.63L89.2,184.54L89.6,184.45L90.0,184.35L90.3,184.25L90.8,184.15L91.2,184.04L91.6,183.93L92.0,183.81L92.3,183.69L92.8,183.56L93.2,183.43L93.5,183.29L93.9,183.15L94.3,183.00L94.8,182.84L95.2,182.68L95.5,182.51L96.0,182.34L96.3,182.16L96.8,181.97L97.2,181.78L97.5,181.58L98.0,181.38L98.3,181.17L98.8,180.96L99.2,180.74L99.6,180.51L100.0,180.29L100.3,180.06L100.8,179.82L101.2,179.58L101.6,179.34L102.0,179.10L102.3,178.86L102.8,178.61L103.2,178.37L103.5,178.12L103.9,177.88L104.3,177.64L104.8,177.39L105.2,177.15L105.5,176.91L106.0,176.67L106.3,176.43L106.8,176.19L107.2,175.96L107.5,175.72L108.0,175.50L108.3,175.27L108.8,175.05L109.2,174.83L109.5,174.61L110.0,174.40L110.4,174.20L110.8,174.00L111.2,173.80L111.6,173.61L112.0,173.43L112.4,173.25L112.8,173.08L113.1,172.91L113.5,172.75L114.0,172.60L114.3,172.46L114.8,172.32L115.2,172.19L115.5,172.07L116.0,171.96L116.3,171.86L116.8,171.76L117.2,171.68L117.5,171.61L118.0,171.54L118.3,171.49L118.8,171.45L119.2,171.42L119.5,171.40L120.0,171.40L120.4,171.40L120.8,171.42L121.2,171.45L121.6,171.49L122.0,171.54L122.4,171.61L122.8,171.68L123.1,171.76L123.5,171.86L124.0,171.96L124.3,172.07L124.8,172.19L125.2,172.32L125.5,172.46L126.0,172.60L126.4,172.75L126.8,172.91L127.2,173.08L127.5,173.25L127.9,173.43L128.3,173.61L128.8,173.80L129.2,174.00L129.5,174.20L129.9,174.40L130.3,174.61L130.8,174.83L131.2,175.05L131.6,175.27L131.9,175.50L132.3,175.72L132.8,175.96L133.2,176.19L133.6,176.43L134.0,176.67L134.3,176.91L134.8,177.15L135.2,177.39L135.6,177.64L135.9,177.88L136.4,178.12L136.8,178.37L137.2,178.61L137.6,178.86L138.0,179.10L138.3,179.34L138.8,179.58L139.2,179.82L139.5,180.06L139.9,180.29L140.3,180.51L140.8,180.74L141.2,180.96L141.6,181.17L141.9,181.38L142.3,181.58L142.8,181.78L143.2,181.97L143.6,182.16L144.0,182.34L144.3,182.51L144.8,182.68L145.2,182.84L145.6,183.00L145.9,183.15L146.4,183.29L146.8,183.43L147.2,183.56L147.6,183.69L148.0,183.81L148.3,183.93L148.8,184.04L149.2,184.15L149.5,184.25L149.9,184.35L150.3,184.45L150.8,184.54L151.2,184.63L151.6,184.71L151.9,184.79L152.4,184.87L152.8,184.94L153.2,185.02L153.6,185.08L153.9,185.15L154.3,185.21L154.8,185.28L155.2,185.33L155.6,185.39L155.9,185.44L156.4,185.49L156.8,185.54L157.2,185.58L157.6,185.62L158.0,185.66L158.3,185.70L158.8,185.73L159.2,185.76L159.6,185.79L159.9,185.82L160.3,185.84L160.8,185.86L161.1,185.88L161.6,185.90L161.9,185.92L162.4,185.93L162.8,185.94L163.2,185.95L163.6,185.96L163.9,185.97L164.3,185.98L164.8,185.98L165.2,185.99L165.6,185.99L165.9,185.99L166.4,186.00L166.8,186.00L167.2,186.00L167.6,186.00L168.0,186.00L168.3,186.00L168.8,186.00L169.2,186.00L169.6,186.00L169.9,186.00L170.3,186.00L170.8,186.00L171.1,186.00L171.6,186.00L171.9,186.00L172.4,186.00L172.8,186.00L173.2,186.00L173.6,186.00L173.9,186.00L174.3,186.00L174.8,186.00L175.2,186.00L175.6,186.00L175.9,186.00L176.4,186.00L176.8,186.00L177.2,186.00L177.6,186.00L178.0,186.00L178.3,186.00L178.8,186.00L179.2,186.00L179.6,186.00L179.9,186.00L180.3,186.00L180.8,186.00L181.1,186.00L181.6,186.00L181.9,186.00L182.4,186.00L182.8,186.00L183.2,186.00L183.6,186.00L183.9,186.00L184.3,186.00L184.8,186.00L185.1,186.00L185.6,186.00L185.9,186.00L186.4,186.00L186.8,186.00L187.2,186.00L187.6,186.00L187.9,186.00L188.4,186.00L188.8,186.00L189.2,186.00L189.6,186.00L189.9,186.00L190.3,186.00L190.8,186.00L191.1,186.00" fill="none" stroke="#ff0000" stroke-width="2.0" stroke-linejoin="round"/>
<path d="M48.4,186.00L48.8,186.00L49.2,186.00L49.5,186.00L50.0,186.00L50.4,186.00L50.8,186.00L51.1,186.00L51.5,186.00L52.0,186.00L52.3,186.00L52.8,186.00L53.1,186.00L53.5,186.00L54.0,186.00L54.3,186.00L54.8,186.00L55.1,186.00L55.5,186.00L56.0,186.00L56.4,186.00L56.8,186.00L57.1,186.00L57.5,186.00L58.0,186.00L58.4,186.00L58.8,186.00L59.2,186.00L59.6,186.00L60.0,186.00L60.3,186.00L60.8,186.00L61.1,186.00L61.6,186.00L61.9,186.00L62.4,186.00L62.8,186.00L63.1,186.00L63.5,186.00L63.9,186.00L64.3,186.00L64.8,186.00L65.2,186.00L65.5,186.00L66.0,186.00L66.3,186.00L66.8,186.00L67.2,186.00L67.5,186.00L68.0,186.00L68.3,186.00L68.8,186.00L69.2,186.00L69.5,186.00L70.0,186.00L70.3,186.00L70.8,186.00L71.1,186.00L71.6,186.00L71.9,186.00L72.4,186.00L72.8,186.00L73.2,186.00L73.5,186.00L74.0,186.00L74.3,186.00L74.8,186.00L75.2,186.00L75.5,186.00L76.0,186.00L76.3,186.00L76.8,186.00L77.2,186.00L77.5,186.00L78.0,186.00L78.3,186.00L78.8,186.00L79.2,186.00L79.5,186.00L80.0,186.00L80.3,186.00L80.8,186.00L81.2,186.00L81.5,186.00L82.0,186.00L82.3,186.00L82.8,186.00L83.2,186.00L83.6,186.00L84.0,186.00L84.3,186.00L84.8,186.00L85.2,186.00L85.5,186.00L86.0,186.00L86.3,186.00L86.8,186.00L87.2,186.00L87.5,186.00L88.0,186.00L88.3,186.00L88.8,186.00L89.2,186.00L89.6,186.00L90.0,185.99L90.3,185.99L90.8,185.99L91.2,185.98L91.6,185.98L92.0,185.97L92.3,185.96L92.8,185.95L93.2,185.93L93.5,185.90L93.9,185.87L94.3,185.83L94.8,185.77L95.2,185.70L95.5,185.61L96.0,185.50L96.3,185.35L96.8,185.17L97.2,184.95L97.5,184.68L98.0,184.34L98.3,183.94L98.8,183.46L99.2,182.88L99.6,182.19L100.0,181.39L100.3,180.46L100.8,179.38L101.2,178.15L101.6,176.75L102.0,175.18L102.3,173.43L102.8,171.50L103.2,169.40L103.5,167.12L103.9,164.70L104.3,162.13L104.8,159.46L105.2,156.70L105.5,153.91L106.0,151.11L106.3,148.35L106.8,145.68L107.2,143.15L107.5,140.80L108.0,138.68L108.3,136.83L108.8,135.29L109.2,134.06L109.5,133.17L110.0,132.62L110.4,132.38L110.8,132.44L111.2,132.76L111.6,133.28L112.0,133.95L112.4,134.70L112.8,135.47L113.1,136.18L113.5,136.77L114.0,137.19L114.3,137.39L114.8,137.34L115.2,137.02L115.5,136.44L116.0,135.61L116.3,134.57L116.8,133.37L117.2,132.07L117.5,130.74L118.0,129.45L118.3,128.28L118.8,127.29L119.2,126.54L119.5,126.07L120.0,125.91L120.4,126.07L120.8,126.54L121.2,127.29L121.6,128.28L122.0,129.45L122.4,130.74L122.8,132.07L123.1,133.37L123.5,134.57L124.0,135.61L124.3,136.44L124.8,137.02L125.2,137.34L125.5,137.39L126.0,137.19L126.4,136.77L126.8,136.18L127.2,135.47L127.5,134.70L127.9,133.95L128.3,133.28L128.8,132.76L129.2,132.44L129.5,132.38L129.9,132.62L130.3,133.17L130.8,134.06L131.2,135.29L131.6,136.83L131.9,138.68L132.3,140.80L132.8,143.15L133.2,145.68L133.6,148.35L134.0,151.11L134.3,153.91L134.8,156.70L135.2,159.46L135.6,162.13L135.9,164.70L136.4,167.12L136.8,169.40L137.2,171.50L137.6,173.43L138.0,175.18L138.3,176.75L138.8,178.15L139.2,179.38L139.5,180.46L139.9,181.39L140.3,182.19L140.8,182.88L141.2,183.46L141.6,183.94L141.9,184.34L142.3,184.68L142.8,184.95L143.2,185.17L143.6,185.35L144.0,185.50L144.3,185.61L144.8,185.70L145.2,185.77L145.6,185.83L145.9,185.87L146.4,185.90L146.8,185.93L147.2,185.95L147.6,185.96L148.0,185.97L148.3,185.98L148.8,185.98L149.2,185.99L149.5,185.99L149.9,185.99L150.3,186.00L150.8,186.00L151.2,186.00L151.6,186.00L151.9,186.00L152.4,186.00L152.8,186.00L153.2,186.00L153.6,186.00L153.9,186.00L154.3,186.00L154.8,186.00L155.2,186.00L155.6,186.00L155.9,186.00L156.4,186.00L156.8,186.00L157.2,186.00L157.6,186.00L158.0,186.00L158.3,186.00L158.8,186.00L159.2,186.00L159.6,186.00L159.9,186.00L160.3,186.00L160.8,186.00L161.1,186.00L161.6,186.00L161.9,186.00L162.4,186.00L162.8,186.00L163.2,186.00L163.6,186.00L163.9,186.00L164.3,186.00L164.8,186.00L165.2,186.00L165.6,186.00L165.9,186.00L166.4,186.00L166.8,186.00L167.2,186.00L167.6,186.00L168.0,186.00L168.3,186.00L168.8,186.00L169.2,186.00L169.6,186.00L169.9,186.00L170.3,186.00L170.8,186.00L171.1,186.00L171.6,186.00L171.9,186.00L172.4,186.00L172.8,186.00L173.2,186.00L173.6,186.00L173.9,186.00L174.3,186.00L174.8,186.00L175.2,186.00L175.6,186.00L175.9,186.00L176.4,186.00L176.8,186.00L177.2,186.00L177.6,186.00L178.0,186.00L178.3,186.00L178.8,186.00L179.2,186.00L179.6,186.00L179.9,186.00L180.3,186.00L180.8,186.00L181.1,186.00L181.6,186.00L181.9,186.00L182.4,186.00L182.8,186.00L183.2,186.00L183.6,186.00L183.9,186.00L184.3,186.00L184.8,186.00L185.1,186.00L185.6,186.00L185.9,186.00L186.4,186.00L186.8,186.00L187.2,186.00L187.6,186.00L187.9,186.00L188.4,186.00L188.8,186.00L189.2,186.00L189.6,186.00L189.9,186.00L190.3,186.00L190.8,186.00L191.1,186.00" fill="none" stroke="#0000ff" stroke-width="1.15" stroke-linejoin="round"/>
<g fill="#000" shape-rendering="crispEdges"><rect x="47" y="119" width="1" height="1" fill-opacity="0.30"/><rect x="47" y="120" width="1" height="80" fill-opacity="0.53"/><rect x="47" y="200" width="1" height="1" fill-opacity="0.30"/><rect x="48" y="119" width="1" height="1" fill-opacity="0.30"/><rect x="48" y="120" width="1" height="80" fill-opacity="0.53"/><rect x="48" y="200" width="1" height="1" fill-opacity="0.30"/><rect x="191" y="119" width="1" height="1" fill-opacity="0.41"/><rect x="191" y="120" width="1" height="80" fill-opacity="0.72"/><rect x="191" y="200" width="1" height="1" fill-opacity="0.41"/><rect x="192" y="119" width="1" height="1" fill-opacity="0.41"/><rect x="192" y="120" width="1" height="80" fill-opacity="0.72"/><rect x="192" y="200" width="1" height="1" fill-opacity="0.41"/><rect x="48" y="119" width="1" height="1" fill-opacity="0.26"/><rect x="48" y="120" width="1" height="1" fill-opacity="0.26"/><rect x="49" y="119" width="142" height="1" fill-opacity="0.56"/><rect x="49" y="120" width="142" height="1" fill-opacity="0.56"/><rect x="191" y="119" width="1" height="1" fill-opacity="0.15"/><rect x="191" y="120" width="1" height="1" fill-opacity="0.15"/><rect x="48" y="199" width="1" height="1" fill-opacity="0.26"/><rect x="48" y="200" width="1" height="1" fill-opacity="0.26"/><rect x="49" y="199" width="142" height="1" fill-opacity="0.56"/><rect x="49" y="200" width="142" height="1" fill-opacity="0.56"/><rect x="191" y="199" width="1" height="1" fill-opacity="0.15"/><rect x="191" y="200" width="1" height="1" fill-opacity="0.15"/></g>
<text transform="translate(60.0,215.25) rotate(0.1) scale(1,1.05)" text-anchor="middle" class="t">-3</text>
<text transform="translate(80.0,215.25) rotate(0.1) scale(1,1.05)" text-anchor="middle" class="t">-2</text>
<text transform="translate(100.2,215.25) rotate(0.1) scale(1,1.05)" text-anchor="middle" class="t">-1</text>
<text transform="translate(121.7,215.25) rotate(0.1) scale(1,1.05)" text-anchor="middle" class="t">0</text>
<text transform="translate(142.5,215.25) rotate(0.1) scale(1,1.05)" text-anchor="middle" class="t">1</text>
<text transform="translate(161.7,215.25) rotate(0.1) scale(1,1.05)" text-anchor="middle" class="t">2</text>
<text transform="translate(181.7,215.25) rotate(0.1) scale(1,1.05)" text-anchor="middle" class="t">3</text>
<text transform="translate(40,190.75) rotate(0.1) scale(1,1.05)" text-anchor="end" class="t">0</text>
<text transform="translate(40.8,163.25) rotate(0.1) scale(1,1.05)" text-anchor="end" class="t">1</text>
<text transform="translate(40,135.75) rotate(0.1) scale(1,1.05)" text-anchor="end" class="t">2</text>
<text transform="translate(17.2,160.0) rotate(-90)" text-anchor="middle" class="l">Density</text>
<text transform="translate(119.95,232.15) rotate(0.1) scale(1,1.04)" text-anchor="middle" class="l">Position (osc. u.)</text>
</g>
<g>
<g fill="#000" shape-rendering="crispEdges"><rect x="225" y="197" width="1" height="1" fill-opacity="0.45"/><rect x="225" y="198" width="1" height="2" fill-opacity="0.53"/><rect x="226" y="197" width="1" height="1" fill-opacity="0.45"/><rect x="226" y="198" width="1" height="2" fill-opacity="0.53"/><rect x="235" y="194" width="1" height="1" fill-opacity="0.21"/><rect x="235" y="195" width="1" height="5" fill-opacity="0.53"/><rect x="236" y="194" width="1" height="1" fill-opacity="0.21"/><rect x="236" y="195" width="1" height="5" fill-opacity="0.53"/><rect x="245" y="197" width="1" height="1" fill-opacity="0.45"/><rect x="245" y="198" width="1" height="2" fill-opacity="0.53"/><rect x="246" y="197" width="1" height="1" fill-opacity="0.45"/><rect x="246" y="198" width="1" height="2" fill-opacity="0.53"/><rect x="255" y="194" width="1" height="1" fill-opacity="0.21"/><rect x="255" y="195" width="1" height="5" fill-opacity="0.53"/><rect x="256" y="194" width="1" height="1" fill-opacity="0.21"/><rect x="256" y="195" width="1" height="5" fill-opacity="0.54"/><rect x="265" y="197" width="1" height="1" fill-opacity="0.45"/><rect x="265" y="198" width="1" height="2" fill-opacity="0.54"/><rect x="266" y="197" width="1" height="1" fill-opacity="0.45"/><rect x="266" y="198" width="1" height="2" fill-opacity="0.54"/><rect x="275" y="194" width="1" height="1" fill-opacity="0.21"/><rect x="275" y="195" width="1" height="5" fill-opacity="0.54"/><rect x="276" y="194" width="1" height="1" fill-opacity="0.21"/><rect x="276" y="195" width="1" height="5" fill-opacity="0.54"/><rect x="285" y="197" width="1" height="1" fill-opacity="0.45"/><rect x="285" y="198" width="1" height="2" fill-opacity="0.54"/><rect x="286" y="197" width="1" height="1" fill-opacity="0.45"/><rect x="286" y="198" width="1" height="2" fill-opacity="0.54"/><rect x="295" y="194" width="1" height="1" fill-opacity="0.21"/><rect x="295" y="195" width="1" height="5" fill-opacity="0.54"/><rect x="296" y="194" width="1" height="1" fill-opacity="0.21"/><rect x="296" y="195" width="1" height="5" fill-opacity="0.54"/><rect x="305" y="197" width="1" height="1" fill-opacity="0.49"/><rect x="305" y="198" width="1" height="2" fill-opacity="0.58"/><rect x="306" y="197" width="1" height="1" fill-opacity="0.42"/><rect x="306" y="198" width="1" height="2" fill-opacity="0.50"/><rect x="315" y="194" width="1" height="1" fill-opacity="0.25"/><rect x="315" y="195" width="1" height="5" fill-opacity="0.62"/><rect x="316" y="194" width="1" height="1" fill-opacity="0.18"/><rect x="316" y="195" width="1" height="5" fill-opacity="0.46"/><rect x="325" y="197" width="1" height="1" fill-opacity="0.56"/><rect x="325" y="198" width="1" height="2" fill-opacity="0.66"/><rect x="326" y="197" width="1" height="1" fill-opacity="0.35"/><rect x="326" y="198" width="1" height="2" fill-opacity="0.42"/><rect x="335" y="194" width="1" height="1" fill-opacity="0.28"/><rect x="335" y="195" width="1" height="5" fill-opacity="0.70"/><rect x="336" y="194" width="1" height="1" fill-opacity="0.15"/><rect x="336" y="195" width="1" height="5" fill-opacity="0.38"/><rect x="345" y="197" width="1" height="1" fill-opacity="0.62"/><rect x="345" y="198" width="1" height="2" fill-opacity="0.74"/><rect x="346" y="197" width="1" height="1" fill-opacity="0.28"/><rect x="346" y="198" width="1" height="2" fill-opacity="0.34"/><rect x="355" y="194" width="1" height="1" fill-opacity="0.31"/><rect x="355" y="195" width="1" height="5" fill-opacity="0.78"/><rect x="356" y="194" width="1" height="1" fill-opacity="0.12"/><rect x="356" y="195" width="1" height="5" fill-opacity="0.30"/><rect x="365" y="197" width="1" height="1" fill-opacity="0.69"/><rect x="365" y="198" width="1" height="2" fill-opacity="0.81"/><rect x="366" y="197" width="1" height="1" fill-opacity="0.22"/><rect x="366" y="198" width="1" height="2" fill-opacity="0.26"/><rect x="224" y="185" width="5" height="1" fill-opacity="0.53"/><rect x="224" y="186" width="5" height="1" fill-opacity="0.53"/><rect x="229" y="185" width="1" height="1" fill-opacity="0.21"/><rect x="229" y="186" width="1" height="1" fill-opacity="0.21"/><rect x="224" y="157" width="5" height="1" fill-opacity="0.03"/><rect x="224" y="158" width="5" height="1" fill-opacity="1.00"/><rect x="224" y="159" width="5" height="1" fill-opacity="0.03"/><rect x="229" y="158" width="1" height="1" fill-opacity="0.40"/><rect x="224" y="130" width="5" height="1" fill-opacity="0.53"/><rect x="224" y="131" width="5" height="1" fill-opacity="0.53"/><rect x="229" y="130" width="1" height="1" fill-opacity="0.21"/><rect x="229" y="131" width="1" height="1" fill-opacity="0.21"/><rect x="224" y="171" width="2" height="1" fill-opacity="0.28"/><rect x="224" y="172" width="2" height="1" fill-opacity="0.78"/><rect x="226" y="171" width="1" height="1" fill-opacity="0.26"/><rect x="226" y="172" width="1" height="1" fill-opacity="0.71"/><rect x="224" y="144" width="2" height="1" fill-opacity="0.84"/><rect x="224" y="145" width="2" height="1" fill-opacity="0.23"/><rect x="226" y="144" width="1" height="1" fill-opacity="0.75"/><rect x="226" y="145" width="1" height="1" fill-opacity="0.21"/></g>
<path d="M224.3,186.00L224.8,186.00L225.1,186.00L225.5,186.00L225.9,186.00L226.3,186.00L226.8,186.00L227.1,186.00L227.5,186.00L227.9,186.00L228.3,186.00L228.8,186.00L229.1,186.00L229.5,186.00L229.9,186.00L230.3,186.00L230.8,186.00L231.1,186.00L231.5,186.00L231.9,186.00L232.3,186.00L232.8,186.00L233.1,186.00L233.5,186.00L233.9,186.00L234.3,186.00L234.8,186.00L235.1,186.00L235.5,186.00L235.9,186.00L236.3,186.00L236.8,186.00L237.1,186.00L237.5,186.00L237.9,186.00L238.3,186.00L238.8,186.00L239.1,186.00L239.5,186.00L239.9,186.00L240.3,186.00L240.8,186.00L241.1,186.00L241.5,185.99L241.9,185.99L242.3,185.98L242.8,185.98L243.1,185.97L243.5,185.97L243.9,185.96L244.3,185.95L244.8,185.93L245.1,185.92L245.5,185.91L245.9,185.89L246.3,185.87L246.8,185.85L247.1,185.82L247.5,185.79L247.9,185.76L248.3,185.73L248.8,185.70L249.1,185.66L249.5,185.62L249.9,185.57L250.3,185.52L250.8,185.47L251.1,185.41L251.5,185.35L251.9,185.29L252.3,185.22L252.8,185.14L253.1,185.07L253.5,184.98L253.9,184.90L254.3,184.81L254.8,184.71L255.1,184.61L255.5,184.50L255.9,184.39L256.3,184.27L256.8,184.15L257.1,184.02L257.5,183.88L257.9,183.74L258.3,183.60L258.8,183.45L259.1,183.29L259.6,183.13L259.9,182.96L260.3,182.78L260.8,182.60L261.1,182.41L261.5,182.21L261.9,182.01L262.3,181.80L262.8,181.59L263.1,181.37L263.5,181.15L263.9,180.92L264.3,180.70L264.8,180.47L265.1,180.24L265.6,180.02L265.9,179.79L266.3,179.57L266.8,179.34L267.1,179.12L267.6,178.91L267.9,178.70L268.3,178.50L268.8,178.30L269.1,178.12L269.5,177.94L269.9,177.77L270.3,177.62L270.8,177.47L271.1,177.34L271.5,177.23L271.9,177.13L272.3,177.04L272.8,176.97L273.1,176.90L273.6,176.85L273.9,176.82L274.3,176.79L274.8,176.77L275.1,176.76L275.6,176.76L275.9,176.76L276.3,176.78L276.8,176.80L277.1,176.82L277.6,176.85L277.9,176.89L278.3,176.93L278.8,176.98L279.1,177.03L279.5,177.09L279.9,177.15L280.3,177.22L280.8,177.28L281.1,177.36L281.6,177.44L281.9,177.52L282.3,177.60L282.8,177.70L283.1,177.79L283.6,177.89L283.9,178.00L284.3,178.11L284.8,178.22L285.1,178.34L285.6,178.46L285.9,178.58L286.3,178.70L286.8,178.83L287.1,178.96L287.6,179.08L287.9,179.21L288.3,179.33L288.8,179.45L289.1,179.57L289.5,179.68L289.9,179.80L290.3,179.90L290.8,180.01L291.1,180.11L291.6,180.20L291.9,180.29L292.3,180.37L292.8,180.44L293.1,180.51L293.6,180.57L293.9,180.62L294.3,180.67L294.8,180.70L295.1,180.73L295.6,180.74L295.9,180.75L296.3,180.74L296.8,180.73L297.1,180.70L297.6,180.67L297.9,180.62L298.3,180.57L298.8,180.51L299.1,180.44L299.5,180.37L299.9,180.29L300.3,180.20L300.8,180.11L301.1,180.01L301.6,179.90L301.9,179.80L302.4,179.68L302.8,179.57L303.1,179.45L303.6,179.33L303.9,179.21L304.3,179.08L304.8,178.96L305.1,178.83L305.5,178.70L305.9,178.58L306.3,178.46L306.8,178.34L307.1,178.22L307.6,178.11L307.9,178.00L308.3,177.89L308.8,177.79L309.1,177.70L309.5,177.60L309.9,177.52L310.3,177.44L310.8,177.36L311.1,177.28L311.6,177.22L311.9,177.15L312.4,177.09L312.8,177.03L313.1,176.98L313.6,176.93L313.9,176.89L314.3,176.85L314.8,176.82L315.1,176.80L315.5,176.78L315.9,176.76L316.3,176.76L316.8,176.76L317.1,176.77L317.6,176.79L317.9,176.82L318.3,176.85L318.8,176.90L319.1,176.97L319.5,177.04L319.9,177.13L320.3,177.23L320.8,177.34L321.1,177.47L321.6,177.62L321.9,177.77L322.4,177.94L322.8,178.12L323.1,178.30L323.6,178.50L323.9,178.70L324.3,178.91L324.8,179.12L325.1,179.34L325.5,179.57L325.9,179.79L326.3,180.02L326.8,180.24L327.1,180.47L327.6,180.70L327.9,180.92L328.4,181.15L328.8,181.37L329.1,181.59L329.5,181.80L329.9,182.01L330.3,182.21L330.8,182.41L331.1,182.60L331.6,182.78L331.9,182.96L332.4,183.13L332.8,183.29L333.1,183.45L333.5,183.60L333.9,183.74L334.3,183.88L334.8,184.02L335.1,184.15L335.5,184.27L335.9,184.39L336.3,184.50L336.8,184.61L337.1,184.71L337.6,184.81L337.9,184.90L338.4,184.98L338.8,185.07L339.1,185.14L339.5,185.22L339.9,185.29L340.3,185.35L340.8,185.41L341.1,185.47L341.6,185.52L341.9,185.57L342.4,185.62L342.8,185.66L343.1,185.70L343.5,185.73L343.9,185.76L344.3,185.79L344.8,185.82L345.1,185.85L345.5,185.87L345.9,185.89L346.3,185.91L346.8,185.92L347.1,185.93L347.6,185.95L347.9,185.96L348.4,185.97L348.8,185.97L349.1,185.98L349.5,185.98L349.9,185.99L350.3,185.99L350.8,186.00L351.1,186.00L351.6,186.00L351.9,186.00L352.4,186.00L352.8,186.00L353.1,186.00L353.5,186.00L353.9,186.00L354.3,186.00L354.8,186.00L355.1,186.00L355.5,186.00L355.9,186.00L356.3,186.00L356.8,186.00L357.1,186.00L357.6,186.00L357.9,186.00L358.4,186.00L358.8,186.00L359.1,186.00L359.5,186.00L359.9,186.00L360.3,186.00L360.8,186.00L361.1,186.00L361.6,186.00L361.9,186.00L362.4,186.00L362.8,186.00L363.1,186.00L363.5,186.00L363.9,186.00L364.4,186.00L364.8,186.00L365.1,186.00L365.5,186.00L365.9,186.00L366.3,186.00L366.8,186.00L367.1,186.00" fill="none" stroke="#ff0000" stroke-width="2.0" stroke-linejoin="round"/>
<path d="M224.3,186.00L224.8,186.00L225.1,186.00L225.5,186.00L225.9,186.00L226.3,186.00L226.8,186.00L227.1,186.00L227.5,186.00L227.9,186.00L228.3,186.00L228.8,186.00L229.1,186.00L229.5,186.00L229.9,186.00L230.3,186.00L230.8,186.00L231.1,186.00L231.5,186.00L231.9,186.00L232.3,186.00L232.8,186.00L233.1,186.00L233.5,186.00L233.9,186.00L234.3,186.00L234.8,186.00L235.1,186.00L235.5,186.00L235.9,186.00L236.3,186.00L236.8,186.00L237.1,186.00L237.5,186.00L237.9,186.00L238.3,186.00L238.8,186.00L239.1,186.00L239.5,186.00L239.9,186.00L240.3,186.00L240.8,186.00L241.1,186.00L241.5,186.00L241.9,186.00L242.3,186.00L242.8,186.00L243.1,186.00L243.5,186.00L243.9,186.00L244.3,186.00L244.8,186.00L245.1,186.00L245.5,186.00L245.9,186.00L246.3,186.00L246.8,186.00L247.1,186.00L247.5,186.00L247.9,186.00L248.3,186.00L248.8,186.00L249.1,186.00L249.5,186.00L249.9,186.00L250.3,186.00L250.8,186.00L251.1,186.00L251.5,186.00L251.9,186.00L252.3,186.00L252.8,186.00L253.1,186.00L253.5,186.00L253.9,186.00L254.3,186.00L254.8,186.00L255.1,186.00L255.5,186.00L255.9,186.00L256.3,186.00L256.8,186.00L257.1,186.00L257.5,186.00L257.9,186.00L258.3,186.00L258.8,186.00L259.1,186.00L259.6,186.00L259.9,186.00L260.3,186.00L260.8,186.00L261.1,186.00L261.5,186.00L261.9,186.00L262.3,186.00L262.8,186.00L263.1,186.00L263.5,186.00L263.9,186.00L264.3,186.00L264.8,186.00L265.1,186.00L265.6,186.00L265.9,185.99L266.3,185.99L266.8,185.99L267.1,185.98L267.6,185.98L267.9,185.97L268.3,185.96L268.8,185.95L269.1,185.93L269.5,185.90L269.9,185.87L270.3,185.83L270.8,185.77L271.1,185.70L271.5,185.61L271.9,185.50L272.3,185.35L272.8,185.17L273.1,184.95L273.6,184.68L273.9,184.34L274.3,183.94L274.8,183.46L275.1,182.88L275.6,182.19L275.9,181.39L276.3,180.46L276.8,179.38L277.1,178.15L277.6,176.75L277.9,175.18L278.3,173.43L278.8,171.50L279.1,169.40L279.5,167.12L279.9,164.70L280.3,162.13L280.8,159.46L281.1,156.70L281.6,153.91L281.9,151.11L282.3,148.35L282.8,145.68L283.1,143.15L283.6,140.80L283.9,138.68L284.3,136.83L284.8,135.28L285.1,134.05L285.6,133.16L285.9,132.58L286.3,132.32L286.8,132.34L287.1,132.59L287.6,133.02L287.9,133.56L288.3,134.17L288.8,134.76L289.1,135.30L289.5,135.73L289.9,136.03L290.3,136.16L290.8,136.11L291.1,135.86L291.6,135.40L291.9,134.73L292.3,133.87L292.8,132.84L293.1,131.69L293.6,130.48L293.9,129.29L294.3,128.18L294.8,127.23L295.1,126.51L295.6,126.05L295.9,125.89L296.3,126.05L296.8,126.51L297.1,127.23L297.6,128.18L297.9,129.29L298.3,130.48L298.8,131.69L299.1,132.84L299.5,133.87L299.9,134.73L300.3,135.40L300.8,135.86L301.1,136.11L301.6,136.16L301.9,136.03L302.4,135.73L302.8,135.30L303.1,134.76L303.6,134.17L303.9,133.56L304.3,133.02L304.8,132.59L305.1,132.34L305.5,132.32L305.9,132.58L306.3,133.16L306.8,134.05L307.1,135.28L307.6,136.83L307.9,138.68L308.3,140.80L308.8,143.15L309.1,145.68L309.5,148.35L309.9,151.11L310.3,153.91L310.8,156.70L311.1,159.46L311.6,162.13L311.9,164.70L312.4,167.12L312.8,169.40L313.1,171.50L313.6,173.43L313.9,175.18L314.3,176.75L314.8,178.15L315.1,179.38L315.5,180.46L315.9,181.39L316.3,182.19L316.8,182.88L317.1,183.46L317.6,183.94L317.9,184.34L318.3,184.68L318.8,184.95L319.1,185.17L319.5,185.35L319.9,185.50L320.3,185.61L320.8,185.70L321.1,185.77L321.6,185.83L321.9,185.87L322.4,185.90L322.8,185.93L323.1,185.95L323.6,185.96L323.9,185.97L324.3,185.98L324.8,185.98L325.1,185.99L325.5,185.99L325.9,185.99L326.3,186.00L326.8,186.00L327.1,186.00L327.6,186.00L327.9,186.00L328.4,186.00L328.8,186.00L329.1,186.00L329.5,186.00L329.9,186.00L330.3,186.00L330.8,186.00L331.1,186.00L331.6,186.00L331.9,186.00L332.4,186.00L332.8,186.00L333.1,186.00L333.5,186.00L333.9,186.00L334.3,186.00L334.8,186.00L335.1,186.00L335.5,186.00L335.9,186.00L336.3,186.00L336.8,186.00L337.1,186.00L337.6,186.00L337.9,186.00L338.4,186.00L338.8,186.00L339.1,186.00L339.5,186.00L339.9,186.00L340.3,186.00L340.8,186.00L341.1,186.00L341.6,186.00L341.9,186.00L342.4,186.00L342.8,186.00L343.1,186.00L343.5,186.00L343.9,186.00L344.3,186.00L344.8,186.00L345.1,186.00L345.5,186.00L345.9,186.00L346.3,186.00L346.8,186.00L347.1,186.00L347.6,186.00L347.9,186.00L348.4,186.00L348.8,186.00L349.1,186.00L349.5,186.00L349.9,186.00L350.3,186.00L350.8,186.00L351.1,186.00L351.6,186.00L351.9,186.00L352.4,186.00L352.8,186.00L353.1,186.00L353.5,186.00L353.9,186.00L354.3,186.00L354.8,186.00L355.1,186.00L355.5,186.00L355.9,186.00L356.3,186.00L356.8,186.00L357.1,186.00L357.6,186.00L357.9,186.00L358.4,186.00L358.8,186.00L359.1,186.00L359.5,186.00L359.9,186.00L360.3,186.00L360.8,186.00L361.1,186.00L361.6,186.00L361.9,186.00L362.4,186.00L362.8,186.00L363.1,186.00L363.5,186.00L363.9,186.00L364.4,186.00L364.8,186.00L365.1,186.00L365.5,186.00L365.9,186.00L366.3,186.00L366.8,186.00L367.1,186.00" fill="none" stroke="#0000ff" stroke-width="1.15" stroke-linejoin="round"/>
<g fill="#000" shape-rendering="crispEdges"><rect x="223" y="119" width="1" height="1" fill-opacity="0.30"/><rect x="223" y="120" width="1" height="80" fill-opacity="0.53"/><rect x="223" y="200" width="1" height="1" fill-opacity="0.30"/><rect x="224" y="119" width="1" height="1" fill-opacity="0.30"/><rect x="224" y="120" width="1" height="80" fill-opacity="0.53"/><rect x="224" y="200" width="1" height="1" fill-opacity="0.30"/><rect x="367" y="119" width="1" height="1" fill-opacity="0.41"/><rect x="367" y="120" width="1" height="80" fill-opacity="0.73"/><rect x="367" y="200" width="1" height="1" fill-opacity="0.41"/><rect x="368" y="119" width="1" height="1" fill-opacity="0.41"/><rect x="368" y="120" width="1" height="80" fill-opacity="0.73"/><rect x="368" y="200" width="1" height="1" fill-opacity="0.41"/><rect x="224" y="119" width="1" height="1" fill-opacity="0.26"/><rect x="224" y="120" width="1" height="1" fill-opacity="0.26"/><rect x="225" y="119" width="142" height="1" fill-opacity="0.56"/><rect x="225" y="120" width="142" height="1" fill-opacity="0.56"/><rect x="367" y="119" width="1" height="1" fill-opacity="0.15"/><rect x="367" y="120" width="1" height="1" fill-opacity="0.15"/><rect x="224" y="199" width="1" height="1" fill-opacity="0.26"/><rect x="224" y="200" width="1" height="1" fill-opacity="0.26"/><rect x="225" y="199" width="142" height="1" fill-opacity="0.56"/><rect x="225" y="200" width="142" height="1" fill-opacity="0.56"/><rect x="367" y="199" width="1" height="1" fill-opacity="0.15"/><rect x="367" y="200" width="1" height="1" fill-opacity="0.15"/></g>
<text transform="translate(235.9,215.25) rotate(0.1) scale(1,1.05)" text-anchor="middle" class="t">-3</text>
<text transform="translate(255.9,215.25) rotate(0.1) scale(1,1.05)" text-anchor="middle" class="t">-2</text>
<text transform="translate(276.2,215.25) rotate(0.1) scale(1,1.05)" text-anchor="middle" class="t">-1</text>
<text transform="translate(297.7,215.25) rotate(0.1) scale(1,1.05)" text-anchor="middle" class="t">0</text>
<text transform="translate(318.5,215.25) rotate(0.1) scale(1,1.05)" text-anchor="middle" class="t">1</text>
<text transform="translate(337.7,215.25) rotate(0.1) scale(1,1.05)" text-anchor="middle" class="t">2</text>
<text transform="translate(357.7,215.25) rotate(0.1) scale(1,1.05)" text-anchor="middle" class="t">3</text>
<text transform="translate(216,190.75) rotate(0.1) scale(1,1.05)" text-anchor="end" class="t">0</text>
<text transform="translate(216.8,163.25) rotate(0.1) scale(1,1.05)" text-anchor="end" class="t">1</text>
<text transform="translate(216,135.75) rotate(0.1) scale(1,1.05)" text-anchor="end" class="t">2</text>
<text transform="translate(295.95,232.45) rotate(0.1) scale(1,1.04)" text-anchor="middle" class="l" style="font-size:12.35px">Position (osc. u.)</text>
</g>
<g>
<g fill="#000" shape-rendering="crispEdges"><rect x="401" y="197" width="1" height="1" fill-opacity="0.45"/><rect x="401" y="198" width="1" height="2" fill-opacity="0.54"/><rect x="402" y="197" width="1" height="1" fill-opacity="0.45"/><rect x="402" y="198" width="1" height="2" fill-opacity="0.54"/><rect x="411" y="194" width="1" height="1" fill-opacity="0.21"/><rect x="411" y="195" width="1" height="5" fill-opacity="0.54"/><rect x="412" y="194" width="1" height="1" fill-opacity="0.21"/><rect x="412" y="195" width="1" height="5" fill-opacity="0.54"/><rect x="421" y="197" width="1" height="1" fill-opacity="0.45"/><rect x="421" y="198" width="1" height="2" fill-opacity="0.54"/><rect x="422" y="197" width="1" height="1" fill-opacity="0.45"/><rect x="422" y="198" width="1" height="2" fill-opacity="0.54"/><rect x="431" y="194" width="1" height="1" fill-opacity="0.21"/><rect x="431" y="195" width="1" height="5" fill-opacity="0.54"/><rect x="432" y="194" width="1" height="1" fill-opacity="0.21"/><rect x="432" y="195" width="1" height="5" fill-opacity="0.54"/><rect x="441" y="197" width="1" height="1" fill-opacity="0.45"/><rect x="441" y="198" width="1" height="2" fill-opacity="0.54"/><rect x="442" y="197" width="1" height="1" fill-opacity="0.45"/><rect x="442" y="198" width="1" height="2" fill-opacity="0.54"/><rect x="451" y="194" width="1" height="1" fill-opacity="0.21"/><rect x="451" y="195" width="1" height="5" fill-opacity="0.54"/><rect x="452" y="194" width="1" height="1" fill-opacity="0.21"/><rect x="452" y="195" width="1" height="5" fill-opacity="0.54"/><rect x="461" y="197" width="1" height="1" fill-opacity="0.45"/><rect x="461" y="198" width="1" height="2" fill-opacity="0.54"/><rect x="462" y="197" width="1" height="1" fill-opacity="0.45"/><rect x="462" y="198" width="1" height="2" fill-opacity="0.54"/><rect x="471" y="194" width="1" height="1" fill-opacity="0.21"/><rect x="471" y="195" width="1" height="5" fill-opacity="0.54"/><rect x="472" y="194" width="1" height="1" fill-opacity="0.21"/><rect x="472" y="195" width="1" height="5" fill-opacity="0.54"/><rect x="481" y="197" width="1" height="1" fill-opacity="0.49"/><rect x="481" y="198" width="1" height="2" fill-opacity="0.58"/><rect x="482" y="197" width="1" height="1" fill-opacity="0.42"/><rect x="482" y="198" width="1" height="2" fill-opacity="0.50"/><rect x="491" y="194" width="1" height="1" fill-opacity="0.25"/><rect x="491" y="195" width="1" height="5" fill-opacity="0.62"/><rect x="492" y="194" width="1" height="1" fill-opacity="0.18"/><rect x="492" y="195" width="1" height="5" fill-opacity="0.46"/><rect x="501" y="197" width="1" height="1" fill-opacity="0.56"/><rect x="501" y="198" width="1" height="2" fill-opacity="0.66"/><rect x="502" y="197" width="1" height="1" fill-opacity="0.35"/><rect x="502" y="198" width="1" height="2" fill-opacity="0.42"/><rect x="511" y="194" width="1" height="1" fill-opacity="0.28"/><rect x="511" y="195" width="1" height="5" fill-opacity="0.70"/><rect x="512" y="194" width="1" height="1" fill-opacity="0.15"/><rect x="512" y="195" width="1" height="5" fill-opacity="0.38"/><rect x="521" y="197" width="1" height="1" fill-opacity="0.62"/><rect x="521" y="198" width="1" height="2" fill-opacity="0.74"/><rect x="522" y="197" width="1" height="1" fill-opacity="0.28"/><rect x="522" y="198" width="1" height="2" fill-opacity="0.33"/><rect x="531" y="194" width="1" height="1" fill-opacity="0.31"/><rect x="531" y="195" width="1" height="5" fill-opacity="0.77"/><rect x="532" y="194" width="1" height="1" fill-opacity="0.12"/><rect x="532" y="195" width="1" height="5" fill-opacity="0.29"/><rect x="541" y="197" width="1" height="1" fill-opacity="0.69"/><rect x="541" y="198" width="1" height="2" fill-opacity="0.81"/><rect x="542" y="197" width="1" height="1" fill-opacity="0.22"/><rect x="542" y="198" width="1" height="2" fill-opacity="0.25"/><rect x="400" y="185" width="5" height="1" fill-opacity="0.53"/><rect x="400" y="186" width="5" height="1" fill-opacity="0.53"/><rect x="405" y="185" width="1" height="1" fill-opacity="0.21"/><rect x="405" y="186" width="1" height="1" fill-opacity="0.21"/><rect x="400" y="157" width="5" height="1" fill-opacity="0.03"/><rect x="400" y="158" width="5" height="1" fill-opacity="1.00"/><rect x="400" y="159" width="5" height="1" fill-opacity="0.03"/><rect x="405" y="158" width="1" height="1" fill-opacity="0.40"/><rect x="400" y="130" width="5" height="1" fill-opacity="0.53"/><rect x="400" y="131" width="5" height="1" fill-opacity="0.53"/><rect x="405" y="130" width="1" height="1" fill-opacity="0.21"/><rect x="405" y="131" width="1" height="1" fill-opacity="0.21"/><rect x="400" y="171" width="2" height="1" fill-opacity="0.28"/><rect x="400" y="172" width="2" height="1" fill-opacity="0.78"/><rect x="402" y="171" width="1" height="1" fill-opacity="0.26"/><rect x="402" y="172" width="1" height="1" fill-opacity="0.71"/><rect x="400" y="144" width="2" height="1" fill-opacity="0.84"/><rect x="400" y="145" width="2" height="1" fill-opacity="0.23"/><rect x="402" y="144" width="1" height="1" fill-opacity="0.75"/><rect x="402" y="145" width="1" height="1" fill-opacity="0.21"/></g>
<path d="M400.4,186.00L400.8,186.00L401.1,186.00L401.5,186.00L401.9,186.00L402.4,186.00L402.8,186.00L403.1,186.00L403.5,186.00L403.9,186.00L404.3,186.00L404.8,186.00L405.1,186.00L405.5,186.00L405.9,186.00L406.3,186.00L406.8,186.00L407.1,186.00L407.5,185.99L407.9,185.99L408.3,185.98L408.8,185.98L409.1,185.97L409.5,185.95L409.9,185.94L410.3,185.93L410.8,185.91L411.1,185.89L411.6,185.87L411.9,185.84L412.3,185.81L412.8,185.78L413.1,185.75L413.6,185.72L413.9,185.68L414.4,185.64L414.8,185.60L415.1,185.55L415.5,185.50L415.9,185.45L416.3,185.39L416.8,185.33L417.1,185.26L417.5,185.19L417.9,185.11L418.3,185.03L418.8,184.95L419.1,184.86L419.5,184.77L419.9,184.68L420.3,184.59L420.8,184.49L421.1,184.39L421.5,184.29L421.9,184.19L422.3,184.08L422.8,183.97L423.1,183.85L423.6,183.73L423.9,183.61L424.4,183.48L424.8,183.35L425.1,183.21L425.5,183.06L425.9,182.91L426.3,182.76L426.8,182.60L427.1,182.44L427.5,182.27L427.9,182.09L428.3,181.91L428.8,181.73L429.1,181.53L429.5,181.34L429.9,181.13L430.3,180.92L430.8,180.71L431.1,180.48L431.5,180.26L431.9,180.03L432.3,179.79L432.8,179.55L433.1,179.30L433.5,179.05L433.9,178.79L434.3,178.52L434.8,178.24L435.1,177.96L435.6,177.67L435.9,177.39L436.3,177.12L436.8,176.85L437.1,176.58L437.5,176.33L437.9,176.09L438.3,175.85L438.8,175.63L439.1,175.43L439.5,175.23L439.9,175.06L440.3,174.89L440.8,174.75L441.1,174.62L441.6,174.51L441.9,174.42L442.3,174.35L442.8,174.29L443.1,174.25L443.6,174.23L443.9,174.23L444.3,174.25L444.8,174.29L445.1,174.34L445.5,174.42L445.9,174.51L446.3,174.61L446.8,174.74L447.1,174.88L447.5,175.04L447.9,175.22L448.3,175.41L448.8,175.62L449.1,175.85L449.6,176.09L449.9,176.35L450.3,176.63L450.8,176.94L451.1,177.25L451.6,177.59L451.9,177.95L452.3,178.31L452.8,178.69L453.1,179.06L453.6,179.44L453.9,179.81L454.3,180.17L454.8,180.52L455.1,180.86L455.5,181.17L455.9,181.48L456.3,181.77L456.8,182.07L457.1,182.36L457.6,182.65L457.9,182.94L458.3,183.22L458.8,183.50L459.1,183.76L459.6,184.00L459.9,184.23L460.3,184.45L460.8,184.64L461.1,184.82L461.6,184.98L461.9,185.12L462.3,185.24L462.8,185.34L463.1,185.42L463.6,185.50L463.9,185.56L464.3,185.61L464.8,185.65L465.1,185.69L465.5,185.72L465.9,185.76L466.3,185.78L466.8,185.81L467.1,185.83L467.6,185.85L467.9,185.86L468.3,185.87L468.8,185.88L469.1,185.89L469.6,185.89L469.9,185.89L470.3,185.89L470.8,185.89L471.1,185.89L471.6,185.89L471.9,185.89L472.3,185.89L472.8,185.89L473.1,185.89L473.6,185.89L473.9,185.89L474.3,185.89L474.8,185.89L475.1,185.88L475.5,185.87L475.9,185.86L476.3,185.85L476.8,185.83L477.1,185.81L477.6,185.78L477.9,185.76L478.4,185.72L478.8,185.69L479.1,185.65L479.6,185.61L479.9,185.56L480.3,185.50L480.8,185.42L481.1,185.34L481.5,185.24L481.9,185.12L482.3,184.98L482.8,184.82L483.1,184.64L483.6,184.45L483.9,184.23L484.3,184.00L484.8,183.76L485.1,183.50L485.5,183.22L485.9,182.94L486.3,182.65L486.8,182.36L487.1,182.07L487.6,181.77L487.9,181.48L488.4,181.17L488.8,180.86L489.1,180.52L489.6,180.17L489.9,179.81L490.3,179.44L490.8,179.06L491.1,178.69L491.5,178.31L491.9,177.95L492.3,177.59L492.8,177.25L493.1,176.94L493.6,176.63L493.9,176.35L494.3,176.09L494.8,175.85L495.1,175.62L495.5,175.41L495.9,175.22L496.3,175.04L496.8,174.88L497.1,174.74L497.6,174.61L497.9,174.51L498.4,174.42L498.8,174.34L499.1,174.29L499.6,174.25L499.9,174.23L500.3,174.23L500.8,174.25L501.1,174.29L501.5,174.35L501.9,174.42L502.3,174.51L502.8,174.62L503.1,174.75L503.6,174.89L503.9,175.06L504.4,175.23L504.8,175.43L505.1,175.63L505.5,175.85L505.9,176.09L506.3,176.33L506.8,176.58L507.1,176.85L507.6,177.12L507.9,177.39L508.4,177.67L508.8,177.96L509.1,178.24L509.5,178.52L509.9,178.79L510.3,179.05L510.8,179.30L511.1,179.55L511.5,179.79L511.9,180.03L512.4,180.26L512.8,180.48L513.1,180.71L513.5,180.92L513.9,181.13L514.4,181.34L514.8,181.53L515.1,181.73L515.5,181.91L516.0,182.09L516.4,182.27L516.8,182.44L517.1,182.60L517.5,182.76L518.0,182.91L518.4,183.06L518.8,183.21L519.1,183.35L519.5,183.48L520.0,183.61L520.4,183.73L520.8,183.85L521.1,183.97L521.5,184.08L522.0,184.19L522.4,184.29L522.8,184.39L523.1,184.49L523.5,184.59L523.9,184.68L524.4,184.77L524.8,184.86L525.1,184.95L525.5,185.03L526.0,185.11L526.4,185.19L526.8,185.26L527.1,185.33L527.5,185.39L528.0,185.45L528.4,185.50L528.8,185.55L529.1,185.60L529.5,185.64L530.0,185.68L530.4,185.72L530.8,185.75L531.1,185.78L531.5,185.81L532.0,185.84L532.4,185.87L532.8,185.89L533.1,185.91L533.5,185.93L533.9,185.94L534.4,185.95L534.8,185.97L535.1,185.98L535.5,185.98L536.0,185.99L536.4,185.99L536.8,186.00L537.1,186.00L537.5,186.00L538.0,186.00L538.4,186.00L538.8,186.00L539.1,186.00L539.5,186.00L540.0,186.00L540.4,186.00L540.8,186.00L541.1,186.00L541.5,186.00L542.0,186.00L542.4,186.00L542.8,186.00L543.1,186.00" fill="none" stroke="#ff0000" stroke-width="2.0" stroke-linejoin="round"/>
<path d="M400.4,186.00L400.8,186.00L401.1,186.00L401.5,186.00L401.9,186.00L402.4,186.00L402.8,186.00L403.1,186.00L403.5,186.00L403.9,186.00L404.3,186.00L404.8,186.00L405.1,186.00L405.5,186.00L405.9,186.00L406.3,186.00L406.8,186.00L407.1,186.00L407.5,186.00L407.9,186.00L408.3,186.00L408.8,186.00L409.1,186.00L409.5,186.00L409.9,186.00L410.3,186.00L410.8,186.00L411.1,186.00L411.6,186.00L411.9,186.00L412.3,186.00L412.8,186.00L413.1,186.00L413.6,186.00L413.9,186.00L414.4,186.00L414.8,186.00L415.1,186.00L415.5,186.00L415.9,186.00L416.3,186.00L416.8,186.00L417.1,186.00L417.5,186.00L417.9,186.00L418.3,186.00L418.8,186.00L419.1,186.00L419.5,186.00L419.9,186.00L420.3,186.00L420.8,186.00L421.1,186.00L421.5,186.00L421.9,186.00L422.3,186.00L422.8,186.00L423.1,186.00L423.6,186.00L423.9,186.00L424.4,186.00L424.8,186.00L425.1,186.00L425.5,186.00L425.9,186.00L426.3,186.00L426.8,186.00L427.1,186.00L427.5,186.00L427.9,186.00L428.3,186.00L428.8,186.00L429.1,186.00L429.5,186.00L429.9,186.00L430.3,186.00L430.8,186.00L431.1,186.00L431.5,186.00L431.9,186.00L432.3,186.00L432.8,185.99L433.1,185.99L433.5,185.98L433.9,185.98L434.3,185.98L434.8,185.97L435.1,185.97L435.6,185.96L435.9,185.96L436.3,185.96L436.8,185.95L437.1,185.95L437.5,185.95L437.9,185.94L438.3,185.94L438.8,185.94L439.1,185.94L439.5,185.94L439.9,185.94L440.3,185.94L440.8,185.94L441.1,185.94L441.6,185.94L441.9,185.94L442.3,185.95L442.8,185.95L443.1,185.96L443.6,185.97L443.9,185.97L444.3,185.98L444.8,185.98L445.1,185.98L445.5,185.97L445.9,185.94L446.3,185.89L446.8,185.82L447.1,185.72L447.5,185.59L447.9,185.42L448.3,185.22L448.8,184.98L449.1,184.71L449.6,184.41L449.9,184.07L450.3,183.69L450.8,183.27L451.1,182.76L451.6,182.13L451.9,181.35L452.3,180.39L452.8,179.20L453.1,177.81L453.6,176.27L453.9,174.64L454.3,172.98L454.8,171.37L455.1,169.86L455.5,168.41L455.9,166.86L456.3,165.08L456.8,162.89L457.1,160.15L457.6,156.94L457.9,153.63L458.3,150.63L458.8,148.28L459.1,146.44L459.6,144.75L459.9,142.89L460.3,140.88L460.8,138.79L461.1,136.77L461.6,135.16L461.9,134.05L462.3,133.32L462.8,132.82L463.1,132.52L463.6,132.39L463.9,132.39L464.3,132.48L464.8,132.62L465.1,132.77L465.5,132.89L465.9,132.96L466.3,132.93L466.8,132.76L467.1,132.46L467.6,131.99L467.9,131.34L468.3,130.54L468.8,129.66L469.1,128.75L469.6,127.88L469.9,127.11L470.3,126.46L470.8,125.94L471.1,125.57L471.6,125.33L471.9,125.25L472.3,125.33L472.8,125.57L473.1,125.94L473.6,126.46L473.9,127.11L474.3,127.88L474.8,128.75L475.1,129.66L475.5,130.54L475.9,131.34L476.3,131.99L476.8,132.46L477.1,132.76L477.6,132.93L477.9,132.96L478.4,132.89L478.8,132.77L479.1,132.62L479.6,132.48L479.9,132.39L480.3,132.39L480.8,132.52L481.1,132.82L481.5,133.32L481.9,134.05L482.3,135.16L482.8,136.77L483.1,138.79L483.6,140.88L483.9,142.89L484.3,144.75L484.8,146.44L485.1,148.28L485.5,150.63L485.9,153.63L486.3,156.94L486.8,160.15L487.1,162.89L487.6,165.08L487.9,166.86L488.4,168.41L488.8,169.86L489.1,171.37L489.6,172.98L489.9,174.64L490.3,176.27L490.8,177.81L491.1,179.20L491.5,180.39L491.9,181.35L492.3,182.13L492.8,182.76L493.1,183.27L493.6,183.69L493.9,184.07L494.3,184.41L494.8,184.71L495.1,184.98L495.5,185.22L495.9,185.42L496.3,185.59L496.8,185.72L497.1,185.82L497.6,185.89L497.9,185.94L498.4,185.97L498.8,185.98L499.1,185.98L499.6,185.98L499.9,185.97L500.3,185.97L500.8,185.96L501.1,185.95L501.5,185.95L501.9,185.94L502.3,185.94L502.8,185.94L503.1,185.94L503.6,185.94L503.9,185.94L504.4,185.94L504.8,185.94L505.1,185.94L505.5,185.94L505.9,185.94L506.3,185.95L506.8,185.95L507.1,185.95L507.6,185.96L507.9,185.96L508.4,185.96L508.8,185.97L509.1,185.97L509.5,185.98L509.9,185.98L510.3,185.98L510.8,185.99L511.1,185.99L511.5,186.00L511.9,186.00L512.4,186.00L512.8,186.00L513.1,186.00L513.5,186.00L513.9,186.00L514.4,186.00L514.8,186.00L515.1,186.00L515.5,186.00L516.0,186.00L516.4,186.00L516.8,186.00L517.1,186.00L517.5,186.00L518.0,186.00L518.4,186.00L518.8,186.00L519.1,186.00L519.5,186.00L520.0,186.00L520.4,186.00L520.8,186.00L521.1,186.00L521.5,186.00L522.0,186.00L522.4,186.00L522.8,186.00L523.1,186.00L523.5,186.00L523.9,186.00L524.4,186.00L524.8,186.00L525.1,186.00L525.5,186.00L526.0,186.00L526.4,186.00L526.8,186.00L527.1,186.00L527.5,186.00L528.0,186.00L528.4,186.00L528.8,186.00L529.1,186.00L529.5,186.00L530.0,186.00L530.4,186.00L530.8,186.00L531.1,186.00L531.5,186.00L532.0,186.00L532.4,186.00L532.8,186.00L533.1,186.00L533.5,186.00L533.9,186.00L534.4,186.00L534.8,186.00L535.1,186.00L535.5,186.00L536.0,186.00L536.4,186.00L536.8,186.00L537.1,186.00L537.5,186.00L538.0,186.00L538.4,186.00L538.8,186.00L539.1,186.00L539.5,186.00L540.0,186.00L540.4,186.00L540.8,186.00L541.1,186.00L541.5,186.00L542.0,186.00L542.4,186.00L542.8,186.00L543.1,186.00" fill="none" stroke="#0000ff" stroke-width="1.15" stroke-linejoin="round"/>
<g fill="#000" shape-rendering="crispEdges"><rect x="399" y="119" width="1" height="1" fill-opacity="0.30"/><rect x="399" y="120" width="1" height="80" fill-opacity="0.54"/><rect x="399" y="200" width="1" height="1" fill-opacity="0.30"/><rect x="400" y="119" width="1" height="1" fill-opacity="0.30"/><rect x="400" y="120" width="1" height="80" fill-opacity="0.54"/><rect x="400" y="200" width="1" height="1" fill-opacity="0.30"/><rect x="543" y="119" width="1" height="1" fill-opacity="0.41"/><rect x="543" y="120" width="1" height="80" fill-opacity="0.73"/><rect x="543" y="200" width="1" height="1" fill-opacity="0.41"/><rect x="544" y="119" width="1" height="1" fill-opacity="0.41"/><rect x="544" y="120" width="1" height="80" fill-opacity="0.73"/><rect x="544" y="200" width="1" height="1" fill-opacity="0.41"/><rect x="400" y="119" width="1" height="1" fill-opacity="0.26"/><rect x="400" y="120" width="1" height="1" fill-opacity="0.26"/><rect x="401" y="119" width="142" height="1" fill-opacity="0.56"/><rect x="401" y="120" width="142" height="1" fill-opacity="0.56"/><rect x="543" y="119" width="1" height="1" fill-opacity="0.15"/><rect x="543" y="120" width="1" height="1" fill-opacity="0.15"/><rect x="400" y="199" width="1" height="1" fill-opacity="0.26"/><rect x="400" y="200" width="1" height="1" fill-opacity="0.26"/><rect x="401" y="199" width="142" height="1" fill-opacity="0.56"/><rect x="401" y="200" width="142" height="1" fill-opacity="0.56"/><rect x="543" y="199" width="1" height="1" fill-opacity="0.15"/><rect x="543" y="200" width="1" height="1" fill-opacity="0.15"/></g>
<text transform="translate(411.9,215.25) rotate(0.1) scale(1,1.05)" text-anchor="middle" class="t">-3</text>
<text transform="translate(431.9,215.25) rotate(0.1) scale(1,1.05)" text-anchor="middle" class="t">-2</text>
<text transform="translate(452.2,215.25) rotate(0.1) scale(1,1.05)" text-anchor="middle" class="t">-1</text>
<text transform="translate(473.7,215.25) rotate(0.1) scale(1,1.05)" text-anchor="middle" class="t">0</text>
<text transform="translate(494.5,215.25) rotate(0.1) scale(1,1.05)" text-anchor="middle" class="t">1</text>
<text transform="translate(513.7,215.25) rotate(0.1) scale(1,1.05)" text-anchor="middle" class="t">2</text>
<text transform="translate(533.7,215.25) rotate(0.1) scale(1,1.05)" text-anchor="middle" class="t">3</text>
<text transform="translate(392,190.75) rotate(0.1) scale(1,1.05)" text-anchor="end" class="t">0</text>
<text transform="translate(392.8,163.25) rotate(0.1) scale(1,1.05)" text-anchor="end" class="t">1</text>
<text transform="translate(392,135.75) rotate(0.1) scale(1,1.05)" text-anchor="end" class="t">2</text>
<text transform="translate(471.95,232.15) rotate(0.1) scale(1,1.04)" text-anchor="middle" class="l">Position (osc. u.)</text>
</g>
<text transform="translate(563.4,182.05) rotate(-90) scale(1.1,1)" class="r">α</text>
<text transform="translate(562.85,172.6) rotate(-90) scale(0.85,0.65)" class="r">=</text>
<text transform="translate(563.4,164.7) rotate(-90)" class="r">40/6</text>
</svg>
</div>
</body></html>
